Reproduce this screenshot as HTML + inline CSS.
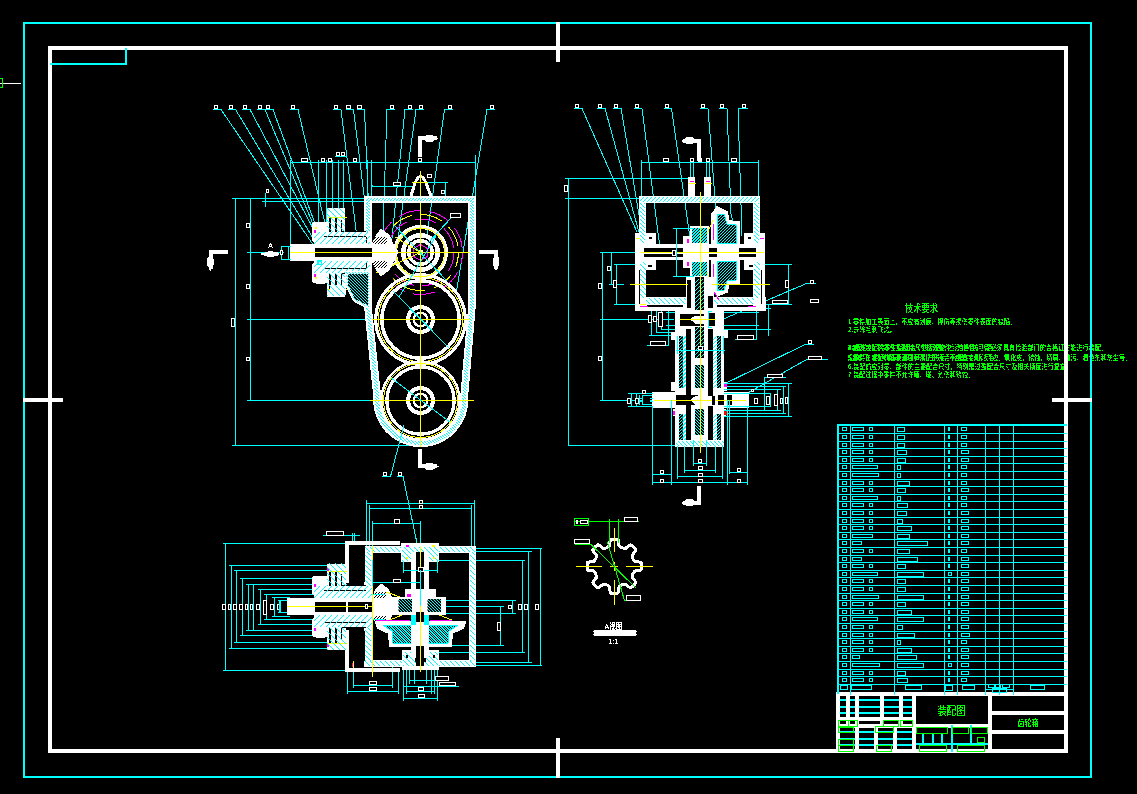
<!DOCTYPE html>
<html lang="zh">
<head>
<meta charset="utf-8">
<title>装配图 - 齿轮箱</title>
<style>
html,body{margin:0;padding:0;background:#000;overflow:hidden}
body{width:1137px;height:794px;font-family:"Liberation Sans","Noto Sans CJK SC",sans-serif}
svg{display:block;position:absolute;left:0;top:0}
svg text{font-family:"Liberation Sans","Noto Sans CJK SC",sans-serif}
</style>
</head>
<body>
<svg width="1137" height="794" viewBox="0 0 1137 794" shape-rendering="crispEdges">
<defs>
<filter id="crisp" x="-5%" y="-20%" width="110%" height="140%" color-interpolation-filters="sRGB"><feComponentTransfer><feFuncA type="discrete" tableValues="0 0 1 1 1"/></feComponentTransfer></filter>
<clipPath id="hw1"><path clip-rule="evenodd" d="M365.0 197.0 L474.8 197.0 L474.8 306.0 L467.2 396.2 L467.2 402.6 L466.3 408.9 L464.6 415.1 L462.1 420.9 L458.8 426.3 L454.8 431.3 L450.1 435.6 L444.9 439.3 L439.3 442.2 L433.3 444.4 L427.1 445.7 L420.7 446.1 L414.3 445.7 L408.1 444.4 L402.1 442.2 L396.5 439.3 L391.3 435.6 L386.6 431.3 L382.6 426.3 L379.3 420.9 L376.8 415.1 L375.1 408.9 L374.2 402.6 L374.2 396.2 L365.0 306.0 Z M370.7 202.3 L469.2 202.3 L469.2 306.0 L461.2 396.7 L461.2 402.2 L460.5 407.7 L459.0 413.1 L456.8 418.1 L453.9 422.9 L450.4 427.2 L446.3 431.0 L441.8 434.2 L436.9 436.7 L431.7 438.6 L426.2 439.7 L420.7 440.1 L415.2 439.7 L409.7 438.6 L404.5 436.7 L399.6 434.2 L395.1 431.0 L391.0 427.2 L387.5 422.9 L384.6 418.1 L382.4 413.1 L380.9 407.7 L380.2 402.2 L380.2 396.7 L370.7 306.0 Z"/></clipPath>
<clipPath id="hwtop"><rect x="360" y="190" width="120" height="13"/></clipPath>
<clipPath id="hwbody"><rect x="360" y="203" width="120" height="250"/></clipPath>
<clipPath id="tgclip"><path d="M372 204 L468 204 L466 300 L400 300 L388 262 L372 262 Z"/></clipPath>
<clipPath id="h2"><path d="M314 232 L370 232 L370 244 L314 244 Z"/></clipPath>
<clipPath id="h3"><path d="M314 261 L370 261 L370 273 L314 273 Z"/></clipPath>
<clipPath id="h4"><path d="M327 208 L345 208 L345 232 L327 232 Z"/></clipPath>
<clipPath id="h5"><path d="M327 273 L345 273 L345 296 L327 296 Z"/></clipPath>
<clipPath id="h6"><path d="M346 272 L369 272 L369 308 L354 300 L347 286 Z"/></clipPath>
<clipPath id="h7"><path d="M373 237 L387 237 L387 244 L373 244 Z"/></clipPath>
<clipPath id="h8"><path d="M373 261 L387 261 L387 268 L373 268 Z"/></clipPath>
<clipPath id="h9"><path d="M640 197 L759 197 L759 202 L640 202 Z"/></clipPath>
<clipPath id="h10"><path d="M640 203 L645 203 L645 243 L640 243 Z"/></clipPath>
<clipPath id="h11"><path d="M754 203 L759 203 L759 243 L754 243 Z"/></clipPath>
<clipPath id="h12"><path d="M640 262 L646 262 L646 298 L640 298 Z"/></clipPath>
<clipPath id="h13"><path d="M754 262 L760 262 L760 298 L754 298 Z"/></clipPath>
<clipPath id="h14"><path d="M646 298 L686 298 L686 304 L646 304 Z"/></clipPath>
<clipPath id="h15"><path d="M714 298 L754 298 L754 304 L714 304 Z"/></clipPath>
<clipPath id="h16"><path d="M692 228 L707 228 L707 243 L692 243 Z"/></clipPath>
<clipPath id="h17"><path d="M692 262 L707 262 L707 276 L692 276 Z"/></clipPath>
<clipPath id="h18"><path d="M717 214 L724 214 L727 224 L736 225 L736 243 L717 243 Z"/></clipPath>
<clipPath id="h19"><path d="M717 261 L736 261 L736 280 L727 281 L724 290 L717 290 Z"/></clipPath>
<clipPath id="h20"><path d="M679 336 L682.5 336 L682.5 388 L679 388 Z"/></clipPath>
<clipPath id="h21"><path d="M717 336 L720.5 336 L720.5 388 L717 388 Z"/></clipPath>
<clipPath id="h22"><path d="M682.5 336 L686 336 L686 388 L682.5 388 Z"/></clipPath>
<clipPath id="h23"><path d="M713 336 L717 336 L717 388 L713 388 Z"/></clipPath>
<clipPath id="h24"><path d="M679 414 L682.5 414 L682.5 440 L679 440 Z"/></clipPath>
<clipPath id="h25"><path d="M717 414 L720.5 414 L720.5 440 L717 440 Z"/></clipPath>
<clipPath id="h26"><path d="M682.5 414 L686 414 L686 440 L682.5 440 Z"/></clipPath>
<clipPath id="h27"><path d="M713 414 L717 414 L717 440 L713 440 Z"/></clipPath>
<clipPath id="h28"><path d="M695 279 L704 279 L704 310 L695 310 Z"/></clipPath>
<clipPath id="h29"><path d="M695 327 L704 327 L704 358 L695 358 Z"/></clipPath>
<clipPath id="h30"><path d="M695 365 L704 365 L704 388 L695 388 Z"/></clipPath>
<clipPath id="h31"><path d="M695 409 L704 409 L704 435 L695 435 Z"/></clipPath>
<clipPath id="h32"><path d="M676 441 L724 441 L724 446 L676 446 Z"/></clipPath>
<clipPath id="h33"><path d="M365 547 L475 547 L475 552 L365 552 Z"/></clipPath>
<clipPath id="h34"><path d="M365 661 L475 661 L475 666 L365 666 Z"/></clipPath>
<clipPath id="h35"><path d="M365 552 L371 552 L371 661 L365 661 Z"/></clipPath>
<clipPath id="h36"><path d="M470 552 L475 552 L475 661 L470 661 Z"/></clipPath>
<clipPath id="h37"><path d="M402 547 L438 547 L438 561 L402 561 Z"/></clipPath>
<clipPath id="h38"><path d="M403 652 L438 652 L438 666 L403 666 Z"/></clipPath>
<clipPath id="h39"><path d="M314 586 L372 586 L372 598 L314 598 Z"/></clipPath>
<clipPath id="h40"><path d="M314 615 L372 615 L372 627 L314 627 Z"/></clipPath>
<clipPath id="h41"><path d="M327 563 L346 563 L346 586 L327 586 Z"/></clipPath>
<clipPath id="h42"><path d="M327 627 L346 627 L346 650 L327 650 Z"/></clipPath>
<clipPath id="h43"><path d="M374 592 L386 592 L386 598 L374 598 Z"/></clipPath>
<clipPath id="h44"><path d="M374 616 L386 616 L386 622 L374 622 Z"/></clipPath>
<clipPath id="h45"><path d="M398.5 599 L412 599 L412 612 L398.5 612 Z"/></clipPath>
<clipPath id="h46"><path d="M427.5 599 L441 599 L441 612 L427.5 612 Z"/></clipPath>
<clipPath id="h47"><path d="M383 625 L458 625 L449 631 L448 643 L393 643 L392 631 Z"/></clipPath>
</defs>
<rect x="0" y="0" width="1137" height="794" fill="#000"/>
<text x="921.5" y="312" font-size="10.5" fill="#00ff00" text-anchor="middle" filter="url(#crisp)" textLength="33" lengthAdjust="spacingAndGlyphs">技术要求</text>
<text x="848" y="324" font-size="7.4" fill="#00ff00" text-anchor="start" filter="url(#crisp)" textLength="168" lengthAdjust="spacingAndGlyphs">1.零件加工表面上，不应有划痕、擦伤等损伤零件表面的缺陷。</text>
<text x="848" y="332" font-size="7.4" fill="#00ff00" text-anchor="start" filter="url(#crisp)" textLength="48" lengthAdjust="spacingAndGlyphs">2.去除毛刺飞边。</text>
<text x="848" y="349.5" font-size="7.4" fill="#00ff00" text-anchor="start" filter="url(#crisp)" textLength="259" lengthAdjust="spacingAndGlyphs">3.进入装配的零件及部件（包括外购件、外协件），均必须具有检验部门的合格证方能进行装配。</text>
<text x="848" y="349.5" font-size="7.4" fill="#00ff00" text-anchor="start" filter="url(#crisp)" textLength="150" lengthAdjust="spacingAndGlyphs">4.装配前应对零部件的主要配合尺寸进行复查，检验合格后方可使用。</text>
<text x="848" y="359.5" font-size="7.4" fill="#00ff00" text-anchor="start" filter="url(#crisp)" textLength="283" lengthAdjust="spacingAndGlyphs">5.零件在装配前必须清理和清洗干净，不得有毛刺、飞边、氧化皮、锈蚀、切屑、油污、着色剂和灰尘等。</text>
<text x="848" y="359.5" font-size="7.4" fill="#00ff00" text-anchor="start" filter="url(#crisp)" textLength="150" lengthAdjust="spacingAndGlyphs">规定螺钉、螺栓和螺母紧固时，严禁打击或使用不合适的旋具和扳手。</text>
<text x="848" y="368.5" font-size="7.4" fill="#00ff00" text-anchor="start" filter="url(#crisp)" textLength="224" lengthAdjust="spacingAndGlyphs">6.装配前应对零、部件的主要配合尺寸，特别是过盈配合尺寸及相关精度进行复查。</text>
<text x="848" y="377" font-size="7.4" fill="#00ff00" text-anchor="start" filter="url(#crisp)" textLength="126" lengthAdjust="spacingAndGlyphs">7.装配过程中零件不允许磕、碰、划伤和锈蚀。</text>
<rect x="24" y="23" width="1067" height="754" fill="none" stroke="#00ffff" stroke-width="2"/>
<rect x="50" y="48" width="1016" height="703" fill="none" stroke="#ffffff" stroke-width="4"/>
<rect x="556" y="22" width="4" height="40" fill="#ffffff"/>
<rect x="556" y="738" width="4" height="40" fill="#ffffff"/>
<rect x="23" y="398" width="40" height="4" fill="#ffffff"/>
<rect x="1052" y="398" width="40" height="4" fill="#ffffff"/>
<rect x="50" y="63" width="77" height="2" fill="#00ffff"/>
<rect x="125" y="48" width="2" height="17" fill="#00ffff"/>
<rect x="0" y="83" width="21" height="1" fill="#ffffff"/>
<rect x="-1.5" y="78.5" width="4" height="9" fill="none" stroke="#00ff00" stroke-width="1"/>
<rect x="836" y="692" width="232" height="4" fill="#ffffff"/>
<rect x="836" y="692" width="4" height="61" fill="#ffffff"/>
<rect x="988" y="692" width="4" height="61" fill="#ffffff"/>
<rect x="912" y="692" width="4" height="61" fill="#ffffff"/>
<rect x="992" y="711" width="74" height="4" fill="#ffffff"/>
<rect x="992" y="730" width="74" height="4" fill="#ffffff"/>
<rect x="916" y="724" width="72" height="4" fill="#ffffff"/>
<rect x="840" y="699" width="72" height="2" fill="#00ffff"/>
<rect x="840" y="706" width="72" height="2" fill="#00ffff"/>
<rect x="840" y="712" width="72" height="2" fill="#00ffff"/>
<rect x="840" y="731" width="72" height="2" fill="#00ffff"/>
<rect x="840" y="738" width="72" height="2" fill="#00ffff"/>
<rect x="840" y="744" width="72" height="2" fill="#00ffff"/>
<rect x="846" y="696" width="4" height="28" fill="#ffffff"/>
<rect x="855" y="696" width="4" height="28" fill="#ffffff"/>
<rect x="880" y="696" width="4" height="28" fill="#ffffff"/>
<rect x="899" y="696" width="4" height="28" fill="#ffffff"/>
<rect x="840" y="717" width="74" height="4" fill="#ffffff"/>
<rect x="840" y="724" width="74" height="4" fill="#ffffff"/>
<rect x="855" y="724" width="4" height="27" fill="#ffffff"/>
<rect x="874" y="724" width="4" height="27" fill="#ffffff"/>
<rect x="893" y="724" width="4" height="27" fill="#ffffff"/>
<rect x="916" y="743" width="72" height="2" fill="#00ffff"/>
<rect x="922" y="733" width="2" height="11" fill="#00ffff"/>
<rect x="932" y="733" width="2" height="11" fill="#00ffff"/>
<rect x="941" y="733" width="2" height="11" fill="#00ffff"/>
<rect x="951" y="725" width="2" height="27" fill="#00ffff"/>
<rect x="970" y="725" width="2" height="19" fill="#00ffff"/>
<rect x="916.5" y="727.5" width="31" height="6" fill="none" stroke="#00ff00" stroke-width="1"/>
<rect x="952.5" y="727.5" width="16" height="6" fill="none" stroke="#00ff00" stroke-width="1"/>
<rect x="971.5" y="727.5" width="16" height="6" fill="none" stroke="#00ff00" stroke-width="1"/>
<rect x="977.5" y="737.5" width="7" height="5" fill="none" stroke="#00ff00" stroke-width="1"/>
<rect x="919.5" y="745.5" width="27" height="6" fill="none" stroke="#00ff00" stroke-width="1"/>
<rect x="957.5" y="745.5" width="27" height="6" fill="none" stroke="#00ff00" stroke-width="1"/>
<rect x="838.5" y="720.5" width="10" height="6" fill="none" stroke="#00ff00" stroke-width="1"/>
<rect x="848.5" y="720.5" width="9" height="6" fill="none" stroke="#00ff00" stroke-width="1"/>
<rect x="838.5" y="727.5" width="15" height="5" fill="none" stroke="#00ff00" stroke-width="1"/>
<rect x="883.5" y="720.5" width="15" height="6" fill="none" stroke="#00ff00" stroke-width="1"/>
<rect x="900.5" y="720.5" width="12" height="6" fill="none" stroke="#00ff00" stroke-width="1"/>
<rect x="875.5" y="726.5" width="18" height="6" fill="none" stroke="#00ff00" stroke-width="1"/>
<rect x="838.5" y="739.5" width="15" height="6" fill="none" stroke="#00ff00" stroke-width="1"/>
<rect x="838.5" y="745.5" width="15" height="6" fill="none" stroke="#00ff00" stroke-width="1"/>
<rect x="876.5" y="745.5" width="15" height="6" fill="none" stroke="#00ff00" stroke-width="1"/>
<text x="951.5" y="714.5" font-size="11" fill="#00ff00" text-anchor="middle" filter="url(#crisp)" textLength="28" lengthAdjust="spacingAndGlyphs">装配图</text>
<text x="1028" y="726" font-size="9" fill="#00ff00" text-anchor="middle" filter="url(#crisp)" textLength="21" lengthAdjust="spacingAndGlyphs">齿轮箱</text>
<rect x="837" y="424" width="230" height="2" fill="#00ffff"/>
<rect x="838" y="433" width="229" height="1" fill="#00ffff"/>
<rect x="838" y="441" width="229" height="1" fill="#00ffff"/>
<rect x="838" y="448" width="229" height="1" fill="#00ffff"/>
<rect x="838" y="456" width="229" height="1" fill="#00ffff"/>
<rect x="838" y="463" width="229" height="1" fill="#00ffff"/>
<rect x="838" y="471" width="229" height="1" fill="#00ffff"/>
<rect x="838" y="479" width="229" height="1" fill="#00ffff"/>
<rect x="838" y="486" width="229" height="1" fill="#00ffff"/>
<rect x="838" y="494" width="229" height="1" fill="#00ffff"/>
<rect x="838" y="501" width="229" height="1" fill="#00ffff"/>
<rect x="838" y="509" width="229" height="1" fill="#00ffff"/>
<rect x="838" y="517" width="229" height="1" fill="#00ffff"/>
<rect x="838" y="524" width="229" height="1" fill="#00ffff"/>
<rect x="838" y="532" width="229" height="1" fill="#00ffff"/>
<rect x="838" y="539" width="229" height="1" fill="#00ffff"/>
<rect x="838" y="547" width="229" height="1" fill="#00ffff"/>
<rect x="838" y="555" width="229" height="1" fill="#00ffff"/>
<rect x="838" y="562" width="229" height="1" fill="#00ffff"/>
<rect x="838" y="570" width="229" height="1" fill="#00ffff"/>
<rect x="838" y="577" width="229" height="1" fill="#00ffff"/>
<rect x="838" y="585" width="229" height="1" fill="#00ffff"/>
<rect x="838" y="593" width="229" height="1" fill="#00ffff"/>
<rect x="838" y="600" width="229" height="1" fill="#00ffff"/>
<rect x="838" y="608" width="229" height="1" fill="#00ffff"/>
<rect x="838" y="615" width="229" height="1" fill="#00ffff"/>
<rect x="838" y="623" width="229" height="1" fill="#00ffff"/>
<rect x="838" y="631" width="229" height="1" fill="#00ffff"/>
<rect x="838" y="638" width="229" height="1" fill="#00ffff"/>
<rect x="838" y="646" width="229" height="1" fill="#00ffff"/>
<rect x="838" y="653" width="229" height="1" fill="#00ffff"/>
<rect x="838" y="661" width="229" height="1" fill="#00ffff"/>
<rect x="838" y="669" width="229" height="1" fill="#00ffff"/>
<rect x="838" y="676" width="229" height="1" fill="#00ffff"/>
<rect x="838" y="684" width="229" height="1" fill="#00ffff"/>
<rect x="837" y="424" width="2" height="270" fill="#00ffff"/>
<rect x="850" y="424" width="1" height="271" fill="#00ffff"/>
<rect x="894" y="424" width="1" height="271" fill="#00ffff"/>
<rect x="944" y="424" width="1" height="271" fill="#00ffff"/>
<rect x="957" y="424" width="1" height="271" fill="#00ffff"/>
<rect x="985" y="424" width="1" height="271" fill="#00ffff"/>
<rect x="999" y="424" width="1" height="271" fill="#00ffff"/>
<rect x="1013" y="424" width="1" height="271" fill="#00ffff"/>
<rect x="842.5" y="427.5" width="4" height="3" fill="none" stroke="#00ffff" stroke-width="1"/>
<rect x="852.5" y="427.5" width="11" height="3" fill="none" stroke="#00ffff" stroke-width="1"/>
<rect x="869.5" y="427.5" width="3" height="3" fill="none" stroke="#00ffff" stroke-width="1"/>
<rect x="897.5" y="427.5" width="7" height="4" fill="none" stroke="#00ffff" stroke-width="1"/>
<rect x="948" y="427" width="2" height="4" fill="#00ffff"/>
<rect x="961.5" y="427.5" width="5" height="3" fill="none" stroke="#00ffff" stroke-width="1"/>
<rect x="842.5" y="435.5" width="4" height="3" fill="none" stroke="#00ffff" stroke-width="1"/>
<rect x="852.5" y="435.5" width="11" height="3" fill="none" stroke="#00ffff" stroke-width="1"/>
<rect x="869.5" y="435.5" width="3" height="3" fill="none" stroke="#00ffff" stroke-width="1"/>
<rect x="897.5" y="435.5" width="7" height="4" fill="none" stroke="#00ffff" stroke-width="1"/>
<rect x="948" y="435" width="2" height="4" fill="#00ffff"/>
<rect x="961.5" y="435.5" width="5" height="3" fill="none" stroke="#00ffff" stroke-width="1"/>
<rect x="842.5" y="443.5" width="4" height="3" fill="none" stroke="#00ffff" stroke-width="1"/>
<rect x="852.5" y="443.5" width="11" height="3" fill="none" stroke="#00ffff" stroke-width="1"/>
<rect x="869.5" y="443.5" width="3" height="3" fill="none" stroke="#00ffff" stroke-width="1"/>
<rect x="897.5" y="443.5" width="7" height="4" fill="none" stroke="#00ffff" stroke-width="1"/>
<rect x="948" y="443" width="2" height="4" fill="#00ffff"/>
<rect x="961.5" y="443.5" width="5" height="3" fill="none" stroke="#00ffff" stroke-width="1"/>
<rect x="842.5" y="450.5" width="4" height="3" fill="none" stroke="#00ffff" stroke-width="1"/>
<rect x="852.5" y="450.5" width="11" height="3" fill="none" stroke="#00ffff" stroke-width="1"/>
<rect x="869.5" y="450.5" width="3" height="3" fill="none" stroke="#00ffff" stroke-width="1"/>
<rect x="897.5" y="450.5" width="9" height="4" fill="none" stroke="#00ffff" stroke-width="1"/>
<rect x="948" y="450" width="2" height="4" fill="#00ffff"/>
<rect x="961.5" y="450.5" width="7" height="3" fill="none" stroke="#00ffff" stroke-width="1"/>
<rect x="842.5" y="458.5" width="4" height="3" fill="none" stroke="#00ffff" stroke-width="1"/>
<rect x="852.5" y="458.5" width="11" height="3" fill="none" stroke="#00ffff" stroke-width="1"/>
<rect x="869.5" y="458.5" width="3" height="3" fill="none" stroke="#00ffff" stroke-width="1"/>
<rect x="897.5" y="458.5" width="8" height="4" fill="none" stroke="#00ffff" stroke-width="1"/>
<rect x="948" y="458" width="2" height="4" fill="#00ffff"/>
<rect x="961.5" y="458.5" width="7" height="3" fill="none" stroke="#00ffff" stroke-width="1"/>
<rect x="842.5" y="465.5" width="4" height="3" fill="none" stroke="#00ffff" stroke-width="1"/>
<rect x="852.5" y="465.5" width="25" height="3" fill="none" stroke="#00ffff" stroke-width="1"/>
<rect x="897.5" y="465.5" width="3" height="4" fill="none" stroke="#00ffff" stroke-width="1"/>
<rect x="948" y="465" width="2" height="4" fill="#00ffff"/>
<rect x="961.5" y="465.5" width="5" height="3" fill="none" stroke="#00ffff" stroke-width="1"/>
<rect x="842.5" y="473.5" width="4" height="3" fill="none" stroke="#00ffff" stroke-width="1"/>
<rect x="852.5" y="473.5" width="26" height="3" fill="none" stroke="#00ffff" stroke-width="1"/>
<rect x="897.5" y="473.5" width="3" height="4" fill="none" stroke="#00ffff" stroke-width="1"/>
<rect x="948" y="473" width="2" height="4" fill="#00ffff"/>
<rect x="961.5" y="473.5" width="5" height="3" fill="none" stroke="#00ffff" stroke-width="1"/>
<rect x="842.5" y="481.5" width="4" height="3" fill="none" stroke="#00ffff" stroke-width="1"/>
<rect x="852.5" y="481.5" width="11" height="3" fill="none" stroke="#00ffff" stroke-width="1"/>
<rect x="869.5" y="481.5" width="3" height="3" fill="none" stroke="#00ffff" stroke-width="1"/>
<rect x="897.5" y="481.5" width="12" height="4" fill="none" stroke="#00ffff" stroke-width="1"/>
<rect x="948" y="481" width="2" height="4" fill="#00ffff"/>
<rect x="961.5" y="481.5" width="5" height="3" fill="none" stroke="#00ffff" stroke-width="1"/>
<rect x="842.5" y="488.5" width="4" height="3" fill="none" stroke="#00ffff" stroke-width="1"/>
<rect x="852.5" y="488.5" width="11" height="3" fill="none" stroke="#00ffff" stroke-width="1"/>
<rect x="869.5" y="488.5" width="3" height="3" fill="none" stroke="#00ffff" stroke-width="1"/>
<rect x="897.5" y="488.5" width="8" height="4" fill="none" stroke="#00ffff" stroke-width="1"/>
<rect x="948" y="488" width="2" height="4" fill="#00ffff"/>
<rect x="961.5" y="488.5" width="7" height="3" fill="none" stroke="#00ffff" stroke-width="1"/>
<rect x="842.5" y="496.5" width="4" height="3" fill="none" stroke="#00ffff" stroke-width="1"/>
<rect x="852.5" y="496.5" width="25" height="3" fill="none" stroke="#00ffff" stroke-width="1"/>
<rect x="897.5" y="496.5" width="3" height="4" fill="none" stroke="#00ffff" stroke-width="1"/>
<rect x="948" y="496" width="2" height="4" fill="#00ffff"/>
<rect x="961.5" y="496.5" width="5" height="3" fill="none" stroke="#00ffff" stroke-width="1"/>
<rect x="842.5" y="503.5" width="4" height="3" fill="none" stroke="#00ffff" stroke-width="1"/>
<rect x="852.5" y="503.5" width="11" height="3" fill="none" stroke="#00ffff" stroke-width="1"/>
<rect x="869.5" y="503.5" width="3" height="3" fill="none" stroke="#00ffff" stroke-width="1"/>
<rect x="897.5" y="503.5" width="10" height="4" fill="none" stroke="#00ffff" stroke-width="1"/>
<rect x="948" y="503" width="2" height="4" fill="#00ffff"/>
<rect x="961.5" y="503.5" width="5" height="3" fill="none" stroke="#00ffff" stroke-width="1"/>
<rect x="842.5" y="511.5" width="4" height="3" fill="none" stroke="#00ffff" stroke-width="1"/>
<rect x="852.5" y="511.5" width="11" height="3" fill="none" stroke="#00ffff" stroke-width="1"/>
<rect x="869.5" y="511.5" width="3" height="3" fill="none" stroke="#00ffff" stroke-width="1"/>
<rect x="897.5" y="511.5" width="9" height="4" fill="none" stroke="#00ffff" stroke-width="1"/>
<rect x="948" y="511" width="2" height="4" fill="#00ffff"/>
<rect x="961.5" y="511.5" width="7" height="3" fill="none" stroke="#00ffff" stroke-width="1"/>
<rect x="842.5" y="519.5" width="4" height="3" fill="none" stroke="#00ffff" stroke-width="1"/>
<rect x="852.5" y="519.5" width="11" height="3" fill="none" stroke="#00ffff" stroke-width="1"/>
<rect x="869.5" y="519.5" width="3" height="3" fill="none" stroke="#00ffff" stroke-width="1"/>
<rect x="897.5" y="519.5" width="5" height="4" fill="none" stroke="#00ffff" stroke-width="1"/>
<rect x="948" y="519" width="2" height="4" fill="#00ffff"/>
<rect x="961.5" y="519.5" width="7" height="3" fill="none" stroke="#00ffff" stroke-width="1"/>
<rect x="842.5" y="526.5" width="4" height="3" fill="none" stroke="#00ffff" stroke-width="1"/>
<rect x="852.5" y="526.5" width="11" height="3" fill="none" stroke="#00ffff" stroke-width="1"/>
<rect x="869.5" y="526.5" width="3" height="3" fill="none" stroke="#00ffff" stroke-width="1"/>
<rect x="897.5" y="526.5" width="14" height="4" fill="none" stroke="#00ffff" stroke-width="1"/>
<rect x="948" y="526" width="2" height="4" fill="#00ffff"/>
<rect x="961.5" y="526.5" width="7" height="3" fill="none" stroke="#00ffff" stroke-width="1"/>
<rect x="842.5" y="534.5" width="4" height="3" fill="none" stroke="#00ffff" stroke-width="1"/>
<rect x="852.5" y="534.5" width="20" height="3" fill="none" stroke="#00ffff" stroke-width="1"/>
<rect x="897.5" y="534.5" width="12" height="4" fill="none" stroke="#00ffff" stroke-width="1"/>
<rect x="948" y="534" width="2" height="4" fill="#00ffff"/>
<rect x="961.5" y="534.5" width="7" height="3" fill="none" stroke="#00ffff" stroke-width="1"/>
<rect x="842.5" y="541.5" width="4" height="3" fill="none" stroke="#00ffff" stroke-width="1"/>
<rect x="852.5" y="541.5" width="9" height="3" fill="none" stroke="#00ffff" stroke-width="1"/>
<rect x="897.5" y="541.5" width="30" height="4" fill="none" stroke="#00ffff" stroke-width="1"/>
<rect x="948" y="541" width="2" height="4" fill="#00ffff"/>
<rect x="961.5" y="541.5" width="7" height="3" fill="none" stroke="#00ffff" stroke-width="1"/>
<rect x="842.5" y="549.5" width="4" height="3" fill="none" stroke="#00ffff" stroke-width="1"/>
<rect x="852.5" y="549.5" width="11" height="3" fill="none" stroke="#00ffff" stroke-width="1"/>
<rect x="869.5" y="549.5" width="3" height="3" fill="none" stroke="#00ffff" stroke-width="1"/>
<rect x="897.5" y="549.5" width="12" height="4" fill="none" stroke="#00ffff" stroke-width="1"/>
<rect x="948" y="549" width="2" height="4" fill="#00ffff"/>
<rect x="961.5" y="549.5" width="5" height="3" fill="none" stroke="#00ffff" stroke-width="1"/>
<rect x="842.5" y="557.5" width="4" height="3" fill="none" stroke="#00ffff" stroke-width="1"/>
<rect x="852.5" y="557.5" width="9" height="3" fill="none" stroke="#00ffff" stroke-width="1"/>
<rect x="897.5" y="557.5" width="20" height="4" fill="none" stroke="#00ffff" stroke-width="1"/>
<rect x="948" y="557" width="2" height="4" fill="#00ffff"/>
<rect x="961.5" y="557.5" width="7" height="3" fill="none" stroke="#00ffff" stroke-width="1"/>
<rect x="842.5" y="564.5" width="4" height="3" fill="none" stroke="#00ffff" stroke-width="1"/>
<rect x="852.5" y="564.5" width="11" height="3" fill="none" stroke="#00ffff" stroke-width="1"/>
<rect x="869.5" y="564.5" width="3" height="3" fill="none" stroke="#00ffff" stroke-width="1"/>
<rect x="897.5" y="564.5" width="8" height="4" fill="none" stroke="#00ffff" stroke-width="1"/>
<rect x="948" y="564" width="2" height="4" fill="#00ffff"/>
<rect x="961.5" y="564.5" width="7" height="3" fill="none" stroke="#00ffff" stroke-width="1"/>
<rect x="842.5" y="572.5" width="4" height="3" fill="none" stroke="#00ffff" stroke-width="1"/>
<rect x="852.5" y="572.5" width="25" height="3" fill="none" stroke="#00ffff" stroke-width="1"/>
<rect x="897.5" y="572.5" width="26" height="4" fill="none" stroke="#00ffff" stroke-width="1"/>
<rect x="948.5" y="572.5" width="3" height="3" fill="none" stroke="#00ffff" stroke-width="1"/>
<rect x="961.5" y="572.5" width="7" height="3" fill="none" stroke="#00ffff" stroke-width="1"/>
<rect x="842.5" y="579.5" width="4" height="3" fill="none" stroke="#00ffff" stroke-width="1"/>
<rect x="852.5" y="579.5" width="11" height="3" fill="none" stroke="#00ffff" stroke-width="1"/>
<rect x="869.5" y="579.5" width="3" height="3" fill="none" stroke="#00ffff" stroke-width="1"/>
<rect x="897.5" y="579.5" width="8" height="4" fill="none" stroke="#00ffff" stroke-width="1"/>
<rect x="948" y="579" width="2" height="4" fill="#00ffff"/>
<rect x="961.5" y="579.5" width="7" height="3" fill="none" stroke="#00ffff" stroke-width="1"/>
<rect x="842.5" y="587.5" width="4" height="3" fill="none" stroke="#00ffff" stroke-width="1"/>
<rect x="852.5" y="587.5" width="11" height="3" fill="none" stroke="#00ffff" stroke-width="1"/>
<rect x="869.5" y="587.5" width="3" height="3" fill="none" stroke="#00ffff" stroke-width="1"/>
<rect x="897.5" y="587.5" width="8" height="4" fill="none" stroke="#00ffff" stroke-width="1"/>
<rect x="948" y="587" width="2" height="4" fill="#00ffff"/>
<rect x="961.5" y="587.5" width="7" height="3" fill="none" stroke="#00ffff" stroke-width="1"/>
<rect x="842.5" y="595.5" width="4" height="3" fill="none" stroke="#00ffff" stroke-width="1"/>
<rect x="852.5" y="595.5" width="26" height="3" fill="none" stroke="#00ffff" stroke-width="1"/>
<rect x="897.5" y="595.5" width="26" height="4" fill="none" stroke="#00ffff" stroke-width="1"/>
<rect x="948" y="595" width="2" height="4" fill="#00ffff"/>
<rect x="961.5" y="595.5" width="7" height="3" fill="none" stroke="#00ffff" stroke-width="1"/>
<rect x="842.5" y="602.5" width="4" height="3" fill="none" stroke="#00ffff" stroke-width="1"/>
<rect x="852.5" y="602.5" width="11" height="3" fill="none" stroke="#00ffff" stroke-width="1"/>
<rect x="869.5" y="602.5" width="3" height="3" fill="none" stroke="#00ffff" stroke-width="1"/>
<rect x="897.5" y="602.5" width="8" height="4" fill="none" stroke="#00ffff" stroke-width="1"/>
<rect x="948" y="602" width="2" height="4" fill="#00ffff"/>
<rect x="961.5" y="602.5" width="7" height="3" fill="none" stroke="#00ffff" stroke-width="1"/>
<rect x="842.5" y="610.5" width="4" height="3" fill="none" stroke="#00ffff" stroke-width="1"/>
<rect x="852.5" y="610.5" width="11" height="3" fill="none" stroke="#00ffff" stroke-width="1"/>
<rect x="869.5" y="610.5" width="3" height="3" fill="none" stroke="#00ffff" stroke-width="1"/>
<rect x="897.5" y="610.5" width="14" height="4" fill="none" stroke="#00ffff" stroke-width="1"/>
<rect x="948" y="610" width="2" height="4" fill="#00ffff"/>
<rect x="961.5" y="610.5" width="7" height="3" fill="none" stroke="#00ffff" stroke-width="1"/>
<rect x="842.5" y="617.5" width="4" height="3" fill="none" stroke="#00ffff" stroke-width="1"/>
<rect x="852.5" y="617.5" width="25" height="3" fill="none" stroke="#00ffff" stroke-width="1"/>
<rect x="897.5" y="617.5" width="26" height="4" fill="none" stroke="#00ffff" stroke-width="1"/>
<rect x="948" y="617" width="2" height="4" fill="#00ffff"/>
<rect x="961.5" y="617.5" width="7" height="3" fill="none" stroke="#00ffff" stroke-width="1"/>
<rect x="842.5" y="625.5" width="4" height="3" fill="none" stroke="#00ffff" stroke-width="1"/>
<rect x="852.5" y="625.5" width="11" height="3" fill="none" stroke="#00ffff" stroke-width="1"/>
<rect x="869.5" y="625.5" width="3" height="3" fill="none" stroke="#00ffff" stroke-width="1"/>
<rect x="897.5" y="625.5" width="5" height="4" fill="none" stroke="#00ffff" stroke-width="1"/>
<rect x="948" y="625" width="2" height="4" fill="#00ffff"/>
<rect x="961.5" y="625.5" width="7" height="3" fill="none" stroke="#00ffff" stroke-width="1"/>
<rect x="842.5" y="633.5" width="4" height="3" fill="none" stroke="#00ffff" stroke-width="1"/>
<rect x="852.5" y="633.5" width="11" height="3" fill="none" stroke="#00ffff" stroke-width="1"/>
<rect x="869.5" y="633.5" width="3" height="3" fill="none" stroke="#00ffff" stroke-width="1"/>
<rect x="897.5" y="633.5" width="17" height="4" fill="none" stroke="#00ffff" stroke-width="1"/>
<rect x="948" y="633" width="2" height="4" fill="#00ffff"/>
<rect x="961.5" y="633.5" width="8" height="3" fill="none" stroke="#00ffff" stroke-width="1"/>
<rect x="842.5" y="640.5" width="4" height="3" fill="none" stroke="#00ffff" stroke-width="1"/>
<rect x="852.5" y="640.5" width="11" height="3" fill="none" stroke="#00ffff" stroke-width="1"/>
<rect x="869.5" y="640.5" width="3" height="3" fill="none" stroke="#00ffff" stroke-width="1"/>
<rect x="897.5" y="640.5" width="3" height="4" fill="none" stroke="#00ffff" stroke-width="1"/>
<rect x="948" y="640" width="2" height="4" fill="#00ffff"/>
<rect x="961.5" y="640.5" width="5" height="3" fill="none" stroke="#00ffff" stroke-width="1"/>
<rect x="842.5" y="648.5" width="4" height="3" fill="none" stroke="#00ffff" stroke-width="1"/>
<rect x="852.5" y="648.5" width="11" height="3" fill="none" stroke="#00ffff" stroke-width="1"/>
<rect x="869.5" y="648.5" width="3" height="3" fill="none" stroke="#00ffff" stroke-width="1"/>
<rect x="897.5" y="648.5" width="14" height="4" fill="none" stroke="#00ffff" stroke-width="1"/>
<rect x="948" y="648" width="2" height="4" fill="#00ffff"/>
<rect x="961.5" y="648.5" width="7" height="3" fill="none" stroke="#00ffff" stroke-width="1"/>
<rect x="842.5" y="655.5" width="4" height="3" fill="none" stroke="#00ffff" stroke-width="1"/>
<rect x="852.5" y="655.5" width="7" height="3" fill="none" stroke="#00ffff" stroke-width="1"/>
<rect x="897.5" y="655.5" width="19" height="4" fill="none" stroke="#00ffff" stroke-width="1"/>
<rect x="948" y="655" width="2" height="4" fill="#00ffff"/>
<rect x="961.5" y="655.5" width="7" height="3" fill="none" stroke="#00ffff" stroke-width="1"/>
<rect x="842.5" y="663.5" width="4" height="3" fill="none" stroke="#00ffff" stroke-width="1"/>
<rect x="852.5" y="663.5" width="27" height="3" fill="none" stroke="#00ffff" stroke-width="1"/>
<rect x="897.5" y="663.5" width="26" height="4" fill="none" stroke="#00ffff" stroke-width="1"/>
<rect x="948.5" y="663.5" width="3" height="3" fill="none" stroke="#00ffff" stroke-width="1"/>
<rect x="961.5" y="663.5" width="7" height="3" fill="none" stroke="#00ffff" stroke-width="1"/>
<rect x="842.5" y="671.5" width="4" height="3" fill="none" stroke="#00ffff" stroke-width="1"/>
<rect x="852.5" y="671.5" width="11" height="3" fill="none" stroke="#00ffff" stroke-width="1"/>
<rect x="869.5" y="671.5" width="3" height="3" fill="none" stroke="#00ffff" stroke-width="1"/>
<rect x="897.5" y="671.5" width="8" height="4" fill="none" stroke="#00ffff" stroke-width="1"/>
<rect x="948" y="671" width="2" height="4" fill="#00ffff"/>
<rect x="961.5" y="671.5" width="7" height="3" fill="none" stroke="#00ffff" stroke-width="1"/>
<rect x="842.5" y="678.5" width="4" height="3" fill="none" stroke="#00ffff" stroke-width="1"/>
<rect x="852.5" y="678.5" width="11" height="3" fill="none" stroke="#00ffff" stroke-width="1"/>
<rect x="869.5" y="678.5" width="3" height="3" fill="none" stroke="#00ffff" stroke-width="1"/>
<rect x="897.5" y="678.5" width="10" height="4" fill="none" stroke="#00ffff" stroke-width="1"/>
<rect x="948" y="678" width="2" height="4" fill="#00ffff"/>
<rect x="961.5" y="678.5" width="5" height="3" fill="none" stroke="#00ffff" stroke-width="1"/>
<rect x="840.5" y="685.5" width="7" height="4" fill="none" stroke="#00ffff" stroke-width="1"/>
<rect x="851.5" y="685.5" width="20" height="4" fill="none" stroke="#00ffff" stroke-width="1"/>
<rect x="905.5" y="685.5" width="16" height="4" fill="none" stroke="#00ffff" stroke-width="1"/>
<rect x="945.5" y="685.5" width="7" height="5" fill="none" stroke="#00ffff" stroke-width="1"/>
<rect x="962.5" y="685.5" width="12" height="4" fill="none" stroke="#00ffff" stroke-width="1"/>
<rect x="988.5" y="684.5" width="6" height="3" fill="none" stroke="#00ffff" stroke-width="1"/>
<rect x="995.5" y="684.5" width="5" height="3" fill="none" stroke="#00ffff" stroke-width="1"/>
<rect x="1002.5" y="684.5" width="7" height="3" fill="none" stroke="#00ffff" stroke-width="1"/>
<rect x="992.5" y="688.5" width="14" height="4" fill="none" stroke="#00ffff" stroke-width="1"/>
<rect x="1030.5" y="685.5" width="14" height="4" fill="none" stroke="#00ffff" stroke-width="1"/>
<rect x="986" y="689" width="28" height="1" fill="#00ffff"/>
<rect x="213" y="109" width="8" height="1" fill="#00ffff"/>
<path d="M221 109.5 L316 249" fill="none" stroke="#00ffff" stroke-width="1"/>
<rect x="214.5" y="105" width="3" height="3" fill="#000000" stroke="#ffffff" stroke-width="1"/>
<rect x="227.5" y="109" width="8" height="1" fill="#00ffff"/>
<path d="M235.5 109.5 L313 238" fill="none" stroke="#00ffff" stroke-width="1"/>
<rect x="229" y="105" width="3" height="3" fill="#000000" stroke="#ffffff" stroke-width="1"/>
<rect x="242" y="109" width="8" height="1" fill="#00ffff"/>
<path d="M250 109.5 L315 232" fill="none" stroke="#00ffff" stroke-width="1"/>
<rect x="243.5" y="105" width="3" height="3" fill="#000000" stroke="#ffffff" stroke-width="1"/>
<rect x="257" y="109" width="8" height="1" fill="#00ffff"/>
<path d="M265 109.5 L318 236" fill="none" stroke="#00ffff" stroke-width="1"/>
<rect x="258.5" y="105" width="3" height="3" fill="#000000" stroke="#ffffff" stroke-width="1"/>
<rect x="265" y="109" width="8" height="1" fill="#00ffff"/>
<path d="M273 109.5 L321 240" fill="none" stroke="#00ffff" stroke-width="1"/>
<rect x="266.5" y="105" width="3" height="3" fill="#000000" stroke="#ffffff" stroke-width="1"/>
<rect x="290" y="109" width="8" height="1" fill="#00ffff"/>
<path d="M298 109.5 L327 232" fill="none" stroke="#00ffff" stroke-width="1"/>
<rect x="291.5" y="105" width="3" height="3" fill="#000000" stroke="#ffffff" stroke-width="1"/>
<rect x="333" y="109" width="8" height="1" fill="#00ffff"/>
<path d="M341 109.5 L356.5 234" fill="none" stroke="#00ffff" stroke-width="1"/>
<rect x="334.5" y="105" width="3" height="3" fill="#000000" stroke="#ffffff" stroke-width="1"/>
<rect x="345.5" y="109" width="8" height="1" fill="#00ffff"/>
<path d="M353.5 109.5 L366.5 215" fill="none" stroke="#00ffff" stroke-width="1"/>
<rect x="346.5" y="105" width="4" height="3" fill="#000000" stroke="#ffffff" stroke-width="1"/>
<rect x="356.5" y="109" width="8" height="1" fill="#00ffff"/>
<path d="M364.5 109.5 L368.5 205" fill="none" stroke="#00ffff" stroke-width="1"/>
<rect x="357.5" y="105" width="4" height="3" fill="#000000" stroke="#ffffff" stroke-width="1"/>
<rect x="387" y="109" width="8" height="1" fill="#00ffff"/>
<path d="M387 109.5 L382.5 248" fill="none" stroke="#00ffff" stroke-width="1"/>
<rect x="390.5" y="105" width="3" height="3" fill="#000000" stroke="#ffffff" stroke-width="1"/>
<rect x="405" y="109" width="8" height="1" fill="#00ffff"/>
<path d="M405 109.5 L391 248" fill="none" stroke="#00ffff" stroke-width="1"/>
<rect x="408.5" y="105" width="3" height="3" fill="#000000" stroke="#ffffff" stroke-width="1"/>
<rect x="416" y="109" width="8" height="1" fill="#00ffff"/>
<path d="M416 109.5 L397 246" fill="none" stroke="#00ffff" stroke-width="1"/>
<rect x="419.5" y="105" width="3" height="3" fill="#000000" stroke="#ffffff" stroke-width="1"/>
<rect x="444.5" y="109" width="8" height="1" fill="#00ffff"/>
<path d="M444.5 109.5 L427 236" fill="none" stroke="#00ffff" stroke-width="1"/>
<rect x="448" y="105" width="3" height="3" fill="#000000" stroke="#ffffff" stroke-width="1"/>
<rect x="487" y="109" width="8" height="1" fill="#00ffff"/>
<path d="M487 109.5 L456 294" fill="none" stroke="#00ffff" stroke-width="1"/>
<rect x="490.5" y="105" width="3" height="3" fill="#000000" stroke="#ffffff" stroke-width="1"/>
<rect x="290" y="162" width="185" height="1" fill="#00ffff"/>
<rect x="290" y="160" width="1" height="86" fill="#00ffff"/>
<rect x="318" y="160" width="1" height="64" fill="#00ffff"/>
<rect x="326" y="160" width="1" height="64" fill="#00ffff"/>
<rect x="332" y="160" width="1" height="52" fill="#00ffff"/>
<rect x="338" y="160" width="1" height="52" fill="#00ffff"/>
<rect x="343" y="160" width="1" height="52" fill="#00ffff"/>
<rect x="367" y="160" width="1" height="38" fill="#00ffff"/>
<rect x="371" y="160" width="1" height="38" fill="#00ffff"/>
<rect x="475" y="155" width="1" height="42" fill="#00ffff"/>
<rect x="335" y="156" width="12" height="1" fill="#00ffff"/>
<rect x="301.5" y="158.5" width="6" height="3" fill="#000000" stroke="#ffffff" stroke-width="1"/>
<rect x="321.5" y="158.5" width="3" height="3" fill="#000000" stroke="#ffffff" stroke-width="1"/>
<rect x="328.5" y="158.5" width="3" height="3" fill="#000000" stroke="#ffffff" stroke-width="1"/>
<rect x="336.5" y="152.5" width="3" height="3" fill="#000000" stroke="#ffffff" stroke-width="1"/>
<rect x="341.5" y="152.5" width="3" height="3" fill="#000000" stroke="#ffffff" stroke-width="1"/>
<rect x="353.5" y="158.5" width="3" height="3" fill="#000000" stroke="#ffffff" stroke-width="1"/>
<rect x="418.5" y="158.5" width="3" height="3" fill="#000000" stroke="#ffffff" stroke-width="1"/>
<rect x="371" y="185.5" width="42" height="1" fill="#00ffff"/>
<rect x="371" y="183" width="1" height="14" fill="#00ffff"/>
<rect x="412" y="182" width="36" height="1" fill="#00ffff"/>
<rect x="445" y="182" width="1" height="15" fill="#00ffff"/>
<path d="M371 187 L373 185.5" fill="none" stroke="#00ffff" stroke-width="1"/>
<rect x="393" y="182" width="7" height="3" fill="#000000" stroke="#ffffff" stroke-width="1"/>
<rect x="427.5" y="174.5" width="4" height="3" fill="#000000" stroke="#ffffff" stroke-width="1"/>
<rect x="441.5" y="190" width="3" height="3" fill="#000000" stroke="#ffffff" stroke-width="1"/>
<rect x="235" y="198" width="1" height="247" fill="#00ffff"/>
<rect x="250" y="198" width="1" height="202" fill="#00ffff"/>
<rect x="232" y="198" width="134" height="1" fill="#00ffff"/>
<rect x="262" y="201" width="104" height="1" fill="#00ffff"/>
<rect x="247" y="252" width="39" height="1" fill="#00ffff"/>
<rect x="247" y="319" width="125" height="1" fill="#00ffff"/>
<rect x="247" y="400" width="127" height="1" fill="#00ffff"/>
<rect x="232" y="445" width="189" height="1" fill="#00ffff"/>
<rect x="265" y="193" width="1" height="14" fill="#00ffff"/>
<rect x="266.5" y="189.5" width="2" height="3" fill="#000000" stroke="#ffffff" stroke-width="1"/>
<rect x="246.5" y="223.5" width="3" height="4" fill="#000000" stroke="#ffffff" stroke-width="1"/>
<rect x="246.5" y="284.5" width="3" height="4" fill="#000000" stroke="#ffffff" stroke-width="1"/>
<rect x="231.5" y="318.5" width="3" height="8" fill="#000000" stroke="#ffffff" stroke-width="1"/>
<rect x="246.5" y="357.5" width="3" height="3" fill="#000000" stroke="#ffffff" stroke-width="1"/>
<g clip-path="url(#hw1)"><rect x="360" y="190" width="120" height="260" fill="#ffffff"/><g clip-path="url(#hwtop)"><path d="M80 460L350 190M83 460L353 190M86 460L356 190M89 460L359 190M92 460L362 190M95 460L365 190M98 460L368 190M101 460L371 190M104 460L374 190M107 460L377 190M110 460L380 190M113 460L383 190M116 460L386 190M119 460L389 190M122 460L392 190M125 460L395 190M128 460L398 190M131 460L401 190M134 460L404 190M137 460L407 190M140 460L410 190M143 460L413 190M146 460L416 190M149 460L419 190M152 460L422 190M155 460L425 190M158 460L428 190M161 460L431 190M164 460L434 190M167 460L437 190M170 460L440 190M173 460L443 190M176 460L446 190M179 460L449 190M182 460L452 190M185 460L455 190M188 460L458 190M191 460L461 190M194 460L464 190M197 460L467 190M200 460L470 190M203 460L473 190M206 460L476 190M209 460L479 190M212 460L482 190M215 460L485 190M218 460L488 190M221 460L491 190M224 460L494 190M227 460L497 190M230 460L500 190M233 460L503 190M236 460L506 190M239 460L509 190M242 460L512 190M245 460L515 190M248 460L518 190M251 460L521 190M254 460L524 190M257 460L527 190M260 460L530 190M263 460L533 190M266 460L536 190M269 460L539 190M272 460L542 190M275 460L545 190M278 460L548 190M281 460L551 190M284 460L554 190M287 460L557 190M290 460L560 190M293 460L563 190M296 460L566 190M299 460L569 190M302 460L572 190M305 460L575 190M308 460L578 190M311 460L581 190M314 460L584 190M317 460L587 190M320 460L590 190M323 460L593 190M326 460L596 190M329 460L599 190M332 460L602 190M335 460L605 190M338 460L608 190M341 460L611 190M344 460L614 190M347 460L617 190M350 460L620 190M353 460L623 190M356 460L626 190M359 460L629 190M362 460L632 190M365 460L635 190M368 460L638 190M371 460L641 190M374 460L644 190M377 460L647 190M380 460L650 190M383 460L653 190M386 460L656 190M389 460L659 190M392 460L662 190M395 460L665 190M398 460L668 190M401 460L671 190M404 460L674 190M407 460L677 190M410 460L680 190M413 460L683 190M416 460L686 190M419 460L689 190M422 460L692 190M425 460L695 190M428 460L698 190M431 460L701 190M434 460L704 190M437 460L707 190M440 460L710 190M443 460L713 190M446 460L716 190M449 460L719 190M452 460L722 190M455 460L725 190M458 460L728 190M461 460L731 190M464 460L734 190M467 460L737 190M470 460L740 190M473 460L743 190M476 460L746 190M479 460L749 190M482 460L752 190M485 460L755 190M488 460L758 190M491 460L761 190M494 460L764 190M497 460L767 190M500 460L770 190M503 460L773 190M506 460L776 190M509 460L779 190M512 460L782 190M515 460L785 190M518 460L788 190" stroke="#00ffff" stroke-width="1" fill="none"/></g><g clip-path="url(#hwbody)"><path d="M80 190L350 460M83 190L353 460M86 190L356 460M89 190L359 460M92 190L362 460M95 190L365 460M98 190L368 460M101 190L371 460M104 190L374 460M107 190L377 460M110 190L380 460M113 190L383 460M116 190L386 460M119 190L389 460M122 190L392 460M125 190L395 460M128 190L398 460M131 190L401 460M134 190L404 460M137 190L407 460M140 190L410 460M143 190L413 460M146 190L416 460M149 190L419 460M152 190L422 460M155 190L425 460M158 190L428 460M161 190L431 460M164 190L434 460M167 190L437 460M170 190L440 460M173 190L443 460M176 190L446 460M179 190L449 460M182 190L452 460M185 190L455 460M188 190L458 460M191 190L461 460M194 190L464 460M197 190L467 460M200 190L470 460M203 190L473 460M206 190L476 460M209 190L479 460M212 190L482 460M215 190L485 460M218 190L488 460M221 190L491 460M224 190L494 460M227 190L497 460M230 190L500 460M233 190L503 460M236 190L506 460M239 190L509 460M242 190L512 460M245 190L515 460M248 190L518 460M251 190L521 460M254 190L524 460M257 190L527 460M260 190L530 460M263 190L533 460M266 190L536 460M269 190L539 460M272 190L542 460M275 190L545 460M278 190L548 460M281 190L551 460M284 190L554 460M287 190L557 460M290 190L560 460M293 190L563 460M296 190L566 460M299 190L569 460M302 190L572 460M305 190L575 460M308 190L578 460M311 190L581 460M314 190L584 460M317 190L587 460M320 190L590 460M323 190L593 460M326 190L596 460M329 190L599 460M332 190L602 460M335 190L605 460M338 190L608 460M341 190L611 460M344 190L614 460M347 190L617 460M350 190L620 460M353 190L623 460M356 190L626 460M359 190L629 460M362 190L632 460M365 190L635 460M368 190L638 460M371 190L641 460M374 190L644 460M377 190L647 460M380 190L650 460M383 190L653 460M386 190L656 460M389 190L659 460M392 190L662 460M395 190L665 460M398 190L668 460M401 190L671 460M404 190L674 460M407 190L677 460M410 190L680 460M413 190L683 460M416 190L686 460M419 190L689 460M422 190L692 460M425 190L695 460M428 190L698 460M431 190L701 460M434 190L704 460M437 190L707 460M440 190L710 460M443 190L713 460M446 190L716 460M449 190L719 460M452 190L722 460M455 190L725 460M458 190L728 460M461 190L731 460M464 190L734 460M467 190L737 460M470 190L740 460M473 190L743 460M476 190L746 460M479 190L749 460M482 190L752 460M485 190L755 460M488 190L758 460M491 190L761 460M494 190L764 460M497 190L767 460M500 190L770 460M503 190L773 460M506 190L776 460M509 190L779 460M512 190L782 460M515 190L785 460M518 190L788 460" stroke="#00ffff" stroke-width="1" fill="none"/></g></g>
<path d="M365 197 L474.8 197 L474.8 306 L467.186 396.249 L467.196 402.615 L466.337 408.923 L464.627 415.055 L462.097 420.897 L458.795 426.34 L454.781 431.281 L450.132 435.63 L444.933 439.304 L439.282 442.235 L433.284 444.369 L427.051 445.665 L420.7 446.1 L414.349 445.665 L408.116 444.369 L402.118 442.235 L396.467 439.304 L391.268 435.63 L386.619 431.281 L382.605 426.34 L379.303 420.897 L376.773 415.055 L375.063 408.923 L374.204 402.615 L374.214 396.249 L365 306 Z" fill="none" stroke="#ffffff" stroke-width="2"/>
<path d="M370.7 202.3 L469.2 202.3 L469.2 306 L461.201 396.668 L461.209 402.214 L460.461 407.71 L458.971 413.053 L456.767 418.142 L453.89 422.884 L450.393 427.189 L446.342 430.978 L441.813 434.179 L436.889 436.733 L431.664 438.592 L426.233 439.721 L420.7 440.1 L415.167 439.721 L409.736 438.592 L404.511 436.733 L399.587 434.179 L395.058 430.978 L391.007 427.189 L387.51 422.884 L384.633 418.142 L382.429 413.053 L380.939 407.71 L380.191 402.214 L380.199 396.668 L370.7 306 Z" fill="none" stroke="#ffffff" stroke-width="2"/>
<path d="M411 196 L415 183 Q420.5 170 426 183 L431 196" fill="none" stroke="#ffffff" stroke-width="3"/>
<rect x="412" y="182" width="16" height="1" fill="#ffff00"/>
<rect x="420" y="171" width="1" height="25" fill="#ffff00"/>
<circle cx="420.5" cy="252.5" r="33.5" fill="none" stroke="#ff00ff" stroke-width="1" stroke-dasharray="22 9" stroke-dashoffset="33.5" clip-path="url(#tgclip)"/>
<circle cx="420.5" cy="252.5" r="38" fill="none" stroke="#ffff00" stroke-width="1" stroke-dasharray="22 9" stroke-dashoffset="38" clip-path="url(#tgclip)"/>
<circle cx="420.5" cy="252.5" r="42" fill="none" stroke="#ff00ff" stroke-width="1" stroke-dasharray="22 9" stroke-dashoffset="42" clip-path="url(#tgclip)"/>
<circle cx="420.5" cy="319.5" r="44.8" fill="none" stroke="#ffffff" stroke-width="3"/>
<circle cx="420.5" cy="319.5" r="38.75" fill="none" stroke="#ffffff" stroke-width="3.5"/>
<circle cx="420.5" cy="319.5" r="42.2" fill="none" stroke="#ffff00" stroke-width="1"/>
<circle cx="420.5" cy="319.5" r="12.5" fill="none" stroke="#ffffff" stroke-width="4"/>
<circle cx="420.5" cy="319.5" r="6.75" fill="none" stroke="#ffffff" stroke-width="2.5"/>
<circle cx="420.5" cy="400.5" r="39.05" fill="none" stroke="#ffffff" stroke-width="2.5"/>
<circle cx="420.5" cy="400.5" r="33.65" fill="none" stroke="#ffffff" stroke-width="3.3"/>
<circle cx="420.5" cy="400.5" r="37" fill="none" stroke="#ffff00" stroke-width="1"/>
<circle cx="420.5" cy="400.5" r="12.5" fill="none" stroke="#ffffff" stroke-width="4"/>
<circle cx="420.5" cy="400.5" r="6.75" fill="none" stroke="#ffffff" stroke-width="2.5"/>
<circle cx="420.5" cy="252.5" r="25.5" fill="none" stroke="#ffffff" stroke-width="4"/>
<circle cx="420.5" cy="252.5" r="17.25" fill="none" stroke="#ffffff" stroke-width="4.5"/>
<circle cx="420.5" cy="252.5" r="11.75" fill="none" stroke="#ffffff" stroke-width="3.5"/>
<circle cx="420.5" cy="252.5" r="24.5" fill="none" stroke="#ffff00" stroke-width="1"/>
<path d="M420.5 244.5 L427.428 248.5 L427.428 256.5 L420.5 260.5 L413.572 256.5 L413.572 248.5 Z" fill="none" stroke="#ff00ff" stroke-width="1"/>
<rect x="418" y="250" width="5" height="5" fill="#ffffff"/>
<rect x="420" y="203" width="1" height="244" fill="#ffff00"/>
<rect x="388" y="252" width="82" height="1" fill="#ffff00"/>
<rect x="372" y="319" width="98" height="1" fill="#ffff00"/>
<rect x="370" y="400" width="104" height="1" fill="#ffff00"/>
<path d="M393 291 L449 348" fill="none" stroke="#00ffff" stroke-width="1"/>
<path d="M391 378 L450 422" fill="none" stroke="#00ffff" stroke-width="1"/>
<path d="M428 243 L451 218" fill="none" stroke="#00ffff" stroke-width="1"/>
<rect x="450.5" y="213.5" width="10" height="4" fill="#000000" stroke="#ffffff" stroke-width="1"/>
<path d="M394 225 L447 281" fill="none" stroke="#00ffff" stroke-width="1"/>
<path d="M399 297 L436 236" fill="none" stroke="#00ffff" stroke-width="1"/>
<path d="M377 272 L396 263" fill="none" stroke="#ffffff" stroke-width="3"/>
<path d="M376 273 L420.5 252.5" fill="none" stroke="#ffff00" stroke-width="1"/>
<path d="M395 237 L420.5 252.5" fill="none" stroke="#ffff00" stroke-width="1"/>
<path d="M404 425 L390.5 476.5" fill="none" stroke="#00ffff" stroke-width="1"/>
<rect x="382" y="476" width="9" height="1" fill="#00ffff"/>
<rect x="383.5" y="472.5" width="3" height="3" fill="#000000" stroke="#ffffff" stroke-width="1"/>
<rect x="397" y="476" width="6" height="1" fill="#00ffff"/>
<path d="M403 476.5 L418 548" fill="none" stroke="#00ffff" stroke-width="1"/>
<rect x="398" y="472.5" width="3" height="3" fill="#000000" stroke="#ffffff" stroke-width="1"/>
<rect x="418" y="136" width="4" height="21" fill="#ffffff"/>
<rect x="418" y="136" width="18.5" height="4" fill="#ffffff"/>
<path d="M425 136.5 L427 135.4 L432 135.4 L434 136.4 L437.5 138.2 L434 140 L432.5 141.3 L427 141.3 L425 139.5 Z" fill="#ffffff" stroke="#ffffff" stroke-width="1"/>
<rect x="418" y="448.8" width="4" height="19.5" fill="#ffffff"/>
<rect x="418" y="464.3" width="18.5" height="4" fill="#ffffff"/>
<path d="M425 464.8 L427 463.7 L432 463.7 L434 464.7 L437.5 466.5 L434 468.3 L432.5 469.6 L427 469.6 L425 467.8 Z" fill="#ffffff" stroke="#ffffff" stroke-width="1"/>
<rect x="208.6" y="250.3" width="19.5" height="4" fill="#ffffff"/>
<rect x="208.6" y="250.3" width="4" height="19" fill="#ffffff"/>
<path d="M212.1 257.3 L213.2 259.3 L213.2 264.3 L212.2 266.3 L210.4 270.3 L208.6 266.3 L207.3 264.8 L207.3 259.3 L209.1 257.3 Z" fill="#ffffff" stroke="#ffffff" stroke-width="1"/>
<rect x="478.8" y="250" width="19.5" height="4" fill="#ffffff"/>
<rect x="494.3" y="250" width="4" height="19" fill="#ffffff"/>
<path d="M497.8 257 L498.9 259 L498.9 264 L497.9 266 L496.1 270 L494.3 266 L493 264.5 L493 259 L494.8 257 Z" fill="#ffffff" stroke="#ffffff" stroke-width="1"/>
<rect x="290" y="244" width="82" height="17" fill="#ffffff"/>
<rect x="314" y="232" width="56" height="41" fill="#ffffff"/>
<rect x="327" y="208.5" width="18" height="26" fill="#ffffff"/>
<rect x="312" y="221.5" width="17" height="21" rx="4" fill="#ffffff"/>
<rect x="329" y="216.5" width="2" height="15" fill="#000000"/>
<rect x="335" y="216.5" width="2" height="15" fill="#000000"/>
<rect x="324" y="236" width="42" height="1.4" fill="#000000"/>
<rect x="341" y="231" width="25" height="1.4" fill="#000000"/>
<rect x="341" y="219.5" width="1.4" height="12" fill="#000000"/>
<rect x="366" y="236.5" width="1" height="6" fill="#000000"/>
<rect x="328" y="216.5" width="19" height="1" fill="#ffff00"/>
<rect x="314" y="229.5" width="2" height="3" fill="#ff00ff"/>
<rect x="315" y="226.5" width="2" height="2" fill="#ffff00"/>
<rect x="327" y="270.5" width="18" height="26" fill="#ffffff"/>
<rect x="312" y="262.5" width="17" height="21" rx="4" fill="#ffffff"/>
<rect x="329" y="273.5" width="2" height="15" fill="#000000"/>
<rect x="335" y="273.5" width="2" height="15" fill="#000000"/>
<rect x="324" y="268" width="42" height="1.4" fill="#000000"/>
<rect x="341" y="273" width="25" height="1.4" fill="#000000"/>
<rect x="341" y="273.5" width="1.4" height="12" fill="#000000"/>
<rect x="366" y="262.5" width="1" height="6" fill="#000000"/>
<rect x="328" y="288.5" width="19" height="1" fill="#ffff00"/>
<rect x="314" y="273.5" width="2" height="3" fill="#ff00ff"/>
<rect x="315" y="276.5" width="2" height="2" fill="#ffff00"/>
<rect x="327" y="208" width="18" height="6" fill="#ffffff"/>
<rect x="330" y="285" width="16" height="10" fill="#ffffff"/>
<g clip-path="url(#h2)" stroke="#00ffff" stroke-width="1"><path d="M296.0 244L308.0 232M302.0 244L314.0 232M308.0 244L320.0 232M314.0 244L326.0 232M320.0 244L332.0 232M326.0 244L338.0 232M332.0 244L344.0 232M338.0 244L350.0 232M344.0 244L356.0 232M350.0 244L362.0 232M356.0 244L368.0 232M362.0 244L374.0 232M368.0 244L380.0 232M374.0 244L386.0 232M380.0 244L392.0 232M386.0 244L398.0 232" fill="none"/></g>
<g clip-path="url(#h3)" stroke="#00ffff" stroke-width="1"><path d="M296.0 273L308.0 261M302.0 273L314.0 261M308.0 273L320.0 261M314.0 273L326.0 261M320.0 273L332.0 261M326.0 273L338.0 261M332.0 273L344.0 261M338.0 273L350.0 261M344.0 273L356.0 261M350.0 273L362.0 261M356.0 273L368.0 261M362.0 273L374.0 261M368.0 273L380.0 261M374.0 273L386.0 261M380.0 273L392.0 261M386.0 273L398.0 261" fill="none"/></g>
<g clip-path="url(#h4)" stroke="#00ffff" stroke-width="1"><path d="M297.0 232L273.0 208M303.0 232L279.0 208M309.0 232L285.0 208M315.0 232L291.0 208M321.0 232L297.0 208M327.0 232L303.0 208M333.0 232L309.0 208M339.0 232L315.0 208M345.0 232L321.0 208M351.0 232L327.0 208M357.0 232L333.0 208M363.0 232L339.0 208M369.0 232L345.0 208" fill="none"/></g>
<g clip-path="url(#h5)" stroke="#00ffff" stroke-width="1"><path d="M298.0 296L275.0 273M304.0 296L281.0 273M310.0 296L287.0 273M316.0 296L293.0 273M322.0 296L299.0 273M328.0 296L305.0 273M334.0 296L311.0 273M340.0 296L317.0 273M346.0 296L323.0 273M352.0 296L329.0 273M358.0 296L335.0 273M364.0 296L341.0 273M370.0 296L347.0 273" fill="none"/></g>
<path d="M346 272 L369 272 L369 308 L354 300 L347 286 Z" fill="#000000" stroke="#ffffff" stroke-width="3"/>
<g clip-path="url(#h6)" stroke="#00ffff" stroke-width="1"><path d="M307.0 308L271.0 272M310.0 308L274.0 272M313.0 308L277.0 272M316.0 308L280.0 272M319.0 308L283.0 272M322.0 308L286.0 272M325.0 308L289.0 272M328.0 308L292.0 272M331.0 308L295.0 272M334.0 308L298.0 272M337.0 308L301.0 272M340.0 308L304.0 272M343.0 308L307.0 272M346.0 308L310.0 272M349.0 308L313.0 272M352.0 308L316.0 272M355.0 308L319.0 272M358.0 308L322.0 272M361.0 308L325.0 272M364.0 308L328.0 272M367.0 308L331.0 272M370.0 308L334.0 272M373.0 308L337.0 272M376.0 308L340.0 272M379.0 308L343.0 272M382.0 308L346.0 272M385.0 308L349.0 272M388.0 308L352.0 272M391.0 308L355.0 272M394.0 308L358.0 272M397.0 308L361.0 272M400.0 308L364.0 272M403.0 308L367.0 272M406.0 308L370.0 272" fill="none"/></g>
<rect x="315" y="248" width="57" height="9" fill="#000000"/>
<rect x="290" y="252" width="106" height="1" fill="#ffff00"/>
<rect x="281" y="246" width="1" height="14" fill="#00ffff"/>
<rect x="281" y="246" width="10" height="1" fill="#00ffff"/>
<rect x="281" y="259" width="10" height="1" fill="#00ffff"/>
<rect x="284" y="247" width="4" height="12" fill="#000000"/>
<rect x="288" y="246" width="1" height="14" fill="#00ffff"/>
<rect x="280.5" y="250.5" width="2" height="4" fill="#000000" stroke="#ffffff" stroke-width="1"/>
<rect x="317.75" y="260.75" width="3.5" height="3.5" fill="none" stroke="#00ffff" stroke-width="1.5"/>
<path d="M261 254 L270 251.5 L278 253 L278 255 L270 257 Z" fill="#ffffff" stroke="#ffffff" stroke-width="1"/>
<text x="270.5" y="248" font-size="7" fill="#ffffff" text-anchor="middle" filter="url(#crisp)">A</text>
<path d="M372 244 L376 236 L381 229 L389 235 L393 244 L398 252 L393 262 L389 270 L381 276 L376 269 L372 261 Z" fill="#ffffff" stroke="#ffffff" stroke-width="1"/>
<g clip-path="url(#h7)" stroke="#000000" stroke-width="1"><path d="M363.0 244L370.0 237M366.0 244L373.0 237M369.0 244L376.0 237M372.0 244L379.0 237M375.0 244L382.0 237M378.0 244L385.0 237M381.0 244L388.0 237M384.0 244L391.0 237M387.0 244L394.0 237M390.0 244L397.0 237M393.0 244L400.0 237M396.0 244L403.0 237" fill="none"/></g>
<g clip-path="url(#h8)" stroke="#000000" stroke-width="1"><path d="M363.0 268L370.0 261M366.0 268L373.0 261M369.0 268L376.0 261M372.0 268L379.0 261M375.0 268L382.0 261M378.0 268L385.0 261M381.0 268L388.0 261M384.0 268L391.0 261M387.0 268L394.0 261M390.0 268L397.0 261M393.0 268L400.0 261M396.0 268L403.0 261" fill="none"/></g>
<rect x="372" y="252" width="24" height="1" fill="#ffff00"/>
<rect x="574" y="108" width="8" height="1" fill="#00ffff"/>
<path d="M582 108.5 L637 232" fill="none" stroke="#00ffff" stroke-width="1"/>
<rect x="575.5" y="104" width="3" height="3" fill="#000000" stroke="#ffffff" stroke-width="1"/>
<rect x="597" y="108" width="8" height="1" fill="#00ffff"/>
<path d="M605 108.5 L640 236" fill="none" stroke="#00ffff" stroke-width="1"/>
<rect x="598.5" y="104" width="3" height="3" fill="#000000" stroke="#ffffff" stroke-width="1"/>
<rect x="613" y="108" width="8" height="1" fill="#00ffff"/>
<path d="M621 108.5 L643 238" fill="none" stroke="#00ffff" stroke-width="1"/>
<rect x="614.5" y="104" width="3" height="3" fill="#000000" stroke="#ffffff" stroke-width="1"/>
<rect x="634" y="108" width="8" height="1" fill="#00ffff"/>
<path d="M642 108.5 L660 248" fill="none" stroke="#00ffff" stroke-width="1"/>
<rect x="635.5" y="104" width="3" height="3" fill="#000000" stroke="#ffffff" stroke-width="1"/>
<rect x="663.5" y="108" width="8" height="1" fill="#00ffff"/>
<path d="M671.5 108.5 L690 238" fill="none" stroke="#00ffff" stroke-width="1"/>
<rect x="665" y="104" width="3" height="3" fill="#000000" stroke="#ffffff" stroke-width="1"/>
<rect x="700" y="108" width="8" height="1" fill="#00ffff"/>
<path d="M708 108.5 L719 250" fill="none" stroke="#00ffff" stroke-width="1"/>
<rect x="701.5" y="104" width="3" height="3" fill="#000000" stroke="#ffffff" stroke-width="1"/>
<rect x="719" y="108" width="8" height="1" fill="#00ffff"/>
<path d="M727 108.5 L731 214 L733 222" fill="none" stroke="#00ffff" stroke-width="1"/>
<rect x="720.5" y="104" width="3" height="3" fill="#000000" stroke="#ffffff" stroke-width="1"/>
<rect x="738" y="108" width="10" height="1" fill="#00ffff"/>
<path d="M738 108.5 L742 236" fill="none" stroke="#00ffff" stroke-width="1"/>
<rect x="742.5" y="104" width="3" height="3" fill="#000000" stroke="#ffffff" stroke-width="1"/>
<rect x="641" y="162" width="118" height="1" fill="#00ffff"/>
<rect x="641" y="160" width="1" height="37" fill="#00ffff"/>
<rect x="758" y="160" width="1" height="40" fill="#00ffff"/>
<rect x="663.5" y="158.5" width="5" height="3" fill="#000000" stroke="#ffffff" stroke-width="1"/>
<rect x="690.5" y="158.5" width="3" height="3" fill="#000000" stroke="#ffffff" stroke-width="1"/>
<rect x="698" y="158.5" width="3" height="3" fill="#000000" stroke="#ffffff" stroke-width="1"/>
<rect x="706.5" y="158.5" width="3" height="3" fill="#000000" stroke="#ffffff" stroke-width="1"/>
<rect x="731.5" y="158.5" width="5" height="3" fill="#000000" stroke="#ffffff" stroke-width="1"/>
<rect x="690" y="162" width="1" height="16" fill="#00ffff"/>
<rect x="693" y="162" width="1" height="16" fill="#00ffff"/>
<rect x="706" y="162" width="1" height="16" fill="#00ffff"/>
<rect x="709" y="162" width="1" height="16" fill="#00ffff"/>
<rect x="565" y="178" width="126" height="1" fill="#00ffff"/>
<rect x="565" y="198" width="76" height="1" fill="#00ffff"/>
<rect x="568" y="178" width="1" height="268" fill="#00ffff"/>
<rect x="564.5" y="185.5" width="3" height="6" fill="#000000" stroke="#ffffff" stroke-width="1"/>
<rect x="568" y="445" width="109" height="1" fill="#00ffff"/>
<rect x="602" y="252" width="1" height="148" fill="#00ffff"/>
<rect x="611" y="252" width="1" height="33" fill="#00ffff"/>
<rect x="616" y="264" width="1" height="41" fill="#00ffff"/>
<rect x="600" y="252" width="37" height="1" fill="#00ffff"/>
<rect x="614" y="264" width="21" height="1" fill="#00ffff"/>
<rect x="609" y="284" width="15" height="1" fill="#00ffff"/>
<rect x="614" y="304" width="22" height="1" fill="#00ffff"/>
<rect x="600" y="400" width="52" height="1" fill="#00ffff"/>
<rect x="607.5" y="266.5" width="3" height="4" fill="#000000" stroke="#ffffff" stroke-width="1"/>
<rect x="613.5" y="280.5" width="3" height="7" fill="#000000" stroke="#ffffff" stroke-width="1"/>
<rect x="598.5" y="283.5" width="3" height="5" fill="#000000" stroke="#ffffff" stroke-width="1"/>
<rect x="598.5" y="356.5" width="3" height="4" fill="#000000" stroke="#ffffff" stroke-width="1"/>
<rect x="765" y="264" width="27" height="1" fill="#00ffff"/>
<rect x="788" y="264" width="1" height="41" fill="#00ffff"/>
<rect x="765" y="304" width="27" height="1" fill="#00ffff"/>
<rect x="785.5" y="280.5" width="3" height="7" fill="#000000" stroke="#ffffff" stroke-width="1"/>
<rect x="772" y="300" width="15" height="3.5" fill="#000000" stroke="#ffffff" stroke-width="1"/>
<path d="M806.5 283.5 L724.5 318.5" fill="none" stroke="#00ffff" stroke-width="1"/>
<rect x="806" y="283" width="10" height="1" fill="#00ffff"/>
<rect x="810.5" y="280.5" width="3" height="3" fill="#000000" stroke="#ffffff" stroke-width="1"/>
<rect x="810.5" y="299.5" width="8" height="3" fill="#000000" stroke="#ffffff" stroke-width="1"/>
<path d="M805 344.5 L716 388" fill="none" stroke="#00ffff" stroke-width="1"/>
<rect x="805" y="344" width="9" height="1" fill="#00ffff"/>
<rect x="808.5" y="340.5" width="3" height="3" fill="#000000" stroke="#ffffff" stroke-width="1"/>
<path d="M806 359.8 L746 394" fill="none" stroke="#00ffff" stroke-width="1"/>
<rect x="806" y="359" width="22" height="1" fill="#00ffff"/>
<rect x="808.5" y="356" width="13" height="3.5" fill="#000000" stroke="#ffffff" stroke-width="1"/>
<rect x="764" y="377" width="22" height="1" fill="#00ffff"/>
<rect x="767.5" y="374" width="15" height="3.5" fill="#000000" stroke="#ffffff" stroke-width="1"/>
<rect x="756" y="307" width="1" height="33" fill="#00ffff"/>
<rect x="768" y="304" width="1" height="32" fill="#00ffff"/>
<rect x="735" y="339" width="22" height="1" fill="#00ffff"/>
<rect x="737.5" y="335.5" width="16" height="3.5" fill="#000000" stroke="#ffffff" stroke-width="1"/>
<rect x="722" y="308" width="49" height="1" fill="#00ffff"/>
<rect x="721" y="312" width="38" height="1" fill="#00ffff"/>
<rect x="721" y="325" width="38" height="1" fill="#00ffff"/>
<rect x="721" y="329" width="50" height="1" fill="#00ffff"/>
<rect x="651" y="302" width="1" height="33" fill="#00ffff"/>
<rect x="656" y="305" width="1" height="27" fill="#00ffff"/>
<rect x="661" y="308" width="1" height="21" fill="#00ffff"/>
<rect x="668" y="311" width="1" height="34" fill="#00ffff"/>
<rect x="677" y="308" width="1" height="17" fill="#00ffff"/>
<rect x="651" y="302" width="26" height="1" fill="#00ffff"/>
<rect x="656" y="305" width="21" height="1" fill="#00ffff"/>
<rect x="661" y="308" width="18" height="1" fill="#00ffff"/>
<rect x="666" y="312" width="13" height="1" fill="#00ffff"/>
<rect x="600" y="319" width="74" height="1" fill="#00ffff"/>
<rect x="666" y="325" width="13" height="1" fill="#00ffff"/>
<rect x="661" y="329" width="18" height="1" fill="#00ffff"/>
<rect x="656" y="332" width="21" height="1" fill="#00ffff"/>
<rect x="649" y="335" width="28" height="1" fill="#00ffff"/>
<rect x="647" y="345" width="22" height="1" fill="#00ffff"/>
<rect x="650.5" y="341.5" width="15" height="3.5" fill="#000000" stroke="#ffffff" stroke-width="1"/>
<rect x="648.5" y="315.5" width="3" height="7" fill="#000000" stroke="#ffffff" stroke-width="1"/>
<rect x="653.5" y="316.5" width="3" height="5" fill="#000000" stroke="#ffffff" stroke-width="1"/>
<rect x="658.5" y="312.5" width="4" height="14" fill="#000000" stroke="#ffffff" stroke-width="1"/>
<rect x="639" y="196" width="121" height="7" fill="#ffffff"/>
<rect x="639" y="196" width="7" height="48" fill="#ffffff"/>
<rect x="753" y="196" width="7" height="48" fill="#ffffff"/>
<rect x="635" y="233" width="21" height="29" fill="#ffffff"/>
<rect x="744" y="233" width="21" height="29" fill="#ffffff"/>
<rect x="635" y="244" width="130" height="16" fill="#ffffff"/>
<rect x="635" y="258" width="11" height="52" fill="#ffffff"/>
<rect x="753" y="258" width="12" height="52" fill="#ffffff"/>
<rect x="635" y="297" width="51" height="14" fill="#ffffff"/>
<rect x="714" y="297" width="52" height="14" fill="#ffffff"/>
<rect x="688" y="177" width="7" height="20" fill="#ffffff"/>
<rect x="704" y="177" width="7" height="20" fill="#ffffff"/>
<rect x="690" y="181" width="4" height="1" fill="#ff00ff"/>
<rect x="689" y="183" width="7" height="1" fill="#ffff00"/>
<rect x="706" y="181" width="4" height="1" fill="#ff00ff"/>
<rect x="705" y="183" width="7" height="1" fill="#ffff00"/>
<rect x="675" y="310" width="49" height="137" fill="#ffffff"/>
<rect x="676" y="311" width="48" height="17" fill="#ffffff"/>
<rect x="652" y="392" width="97" height="16" fill="#ffffff"/>
<rect x="671" y="382" width="5" height="9" fill="#ffffff"/>
<rect x="723" y="382" width="4" height="9" fill="#ffffff"/>
<rect x="673" y="409" width="3" height="7" fill="#ffffff"/>
<rect x="723" y="409" width="3" height="7" fill="#ffffff"/>
<rect x="671" y="332" width="6" height="8" fill="#ffffff"/>
<rect x="722" y="330" width="6" height="8" fill="#ffffff"/>
<g clip-path="url(#h9)" stroke="#00ffff" stroke-width="1"><path d="M631.0 202L636.0 197M635.0 202L640.0 197M639.0 202L644.0 197M643.0 202L648.0 197M647.0 202L652.0 197M651.0 202L656.0 197M655.0 202L660.0 197M659.0 202L664.0 197M663.0 202L668.0 197M667.0 202L672.0 197M671.0 202L676.0 197M675.0 202L680.0 197M679.0 202L684.0 197M683.0 202L688.0 197M687.0 202L692.0 197M691.0 202L696.0 197M695.0 202L700.0 197M699.0 202L704.0 197M703.0 202L708.0 197M707.0 202L712.0 197M711.0 202L716.0 197M715.0 202L720.0 197M719.0 202L724.0 197M723.0 202L728.0 197M727.0 202L732.0 197M731.0 202L736.0 197M735.0 202L740.0 197M739.0 202L744.0 197M743.0 202L748.0 197M747.0 202L752.0 197M751.0 202L756.0 197M755.0 202L760.0 197M759.0 202L764.0 197M763.0 202L768.0 197M767.0 202L772.0 197" fill="none"/></g>
<g clip-path="url(#h10)" stroke="#00ffff" stroke-width="1"><path d="M596.0 243L556.0 203M600.0 243L560.0 203M604.0 243L564.0 203M608.0 243L568.0 203M612.0 243L572.0 203M616.0 243L576.0 203M620.0 243L580.0 203M624.0 243L584.0 203M628.0 243L588.0 203M632.0 243L592.0 203M636.0 243L596.0 203M640.0 243L600.0 203M644.0 243L604.0 203M648.0 243L608.0 203M652.0 243L612.0 203M656.0 243L616.0 203M660.0 243L620.0 203M664.0 243L624.0 203M668.0 243L628.0 203M672.0 243L632.0 203M676.0 243L636.0 203M680.0 243L640.0 203M684.0 243L644.0 203M688.0 243L648.0 203" fill="none"/></g>
<g clip-path="url(#h11)" stroke="#00ffff" stroke-width="1"><path d="M710.0 243L670.0 203M714.0 243L674.0 203M718.0 243L678.0 203M722.0 243L682.0 203M726.0 243L686.0 203M730.0 243L690.0 203M734.0 243L694.0 203M738.0 243L698.0 203M742.0 243L702.0 203M746.0 243L706.0 203M750.0 243L710.0 203M754.0 243L714.0 203M758.0 243L718.0 203M762.0 243L722.0 203M766.0 243L726.0 203M770.0 243L730.0 203M774.0 243L734.0 203M778.0 243L738.0 203M782.0 243L742.0 203M786.0 243L746.0 203M790.0 243L750.0 203M794.0 243L754.0 203M798.0 243L758.0 203M802.0 243L762.0 203" fill="none"/></g>
<g clip-path="url(#h12)" stroke="#00ffff" stroke-width="1"><path d="M599.0 298L563.0 262M604.0 298L568.0 262M609.0 298L573.0 262M614.0 298L578.0 262M619.0 298L583.0 262M624.0 298L588.0 262M629.0 298L593.0 262M634.0 298L598.0 262M639.0 298L603.0 262M644.0 298L608.0 262M649.0 298L613.0 262M654.0 298L618.0 262M659.0 298L623.0 262M664.0 298L628.0 262M669.0 298L633.0 262M674.0 298L638.0 262M679.0 298L643.0 262M684.0 298L648.0 262" fill="none"/></g>
<g clip-path="url(#h13)" stroke="#00ffff" stroke-width="1"><path d="M713.0 298L677.0 262M718.0 298L682.0 262M723.0 298L687.0 262M728.0 298L692.0 262M733.0 298L697.0 262M738.0 298L702.0 262M743.0 298L707.0 262M748.0 298L712.0 262M753.0 298L717.0 262M758.0 298L722.0 262M763.0 298L727.0 262M768.0 298L732.0 262M773.0 298L737.0 262M778.0 298L742.0 262M783.0 298L747.0 262M788.0 298L752.0 262M793.0 298L757.0 262M798.0 298L762.0 262" fill="none"/></g>
<rect x="638.5" y="270" width="1" height="34" fill="#000000"/>
<rect x="760.5" y="270" width="1" height="34" fill="#000000"/>
<g clip-path="url(#h14)" stroke="#00ffff" stroke-width="1"><path d="M635.0 304L629.0 298M640.0 304L634.0 298M645.0 304L639.0 298M650.0 304L644.0 298M655.0 304L649.0 298M660.0 304L654.0 298M665.0 304L659.0 298M670.0 304L664.0 298M675.0 304L669.0 298M680.0 304L674.0 298M685.0 304L679.0 298M690.0 304L684.0 298M695.0 304L689.0 298" fill="none"/></g>
<g clip-path="url(#h15)" stroke="#00ffff" stroke-width="1"><path d="M703.0 304L697.0 298M708.0 304L702.0 298M713.0 304L707.0 298M718.0 304L712.0 298M723.0 304L717.0 298M728.0 304L722.0 298M733.0 304L727.0 298M738.0 304L732.0 298M743.0 304L737.0 298M748.0 304L742.0 298M753.0 304L747.0 298M758.0 304L752.0 298M763.0 304L757.0 298" fill="none"/></g>
<rect x="647" y="305" width="36" height="2" fill="#000000"/>
<rect x="717" y="305" width="36" height="2" fill="#000000"/>
<rect x="640" y="306" width="8" height="1" fill="#ff00ff"/>
<rect x="748" y="306" width="8" height="1" fill="#ff00ff"/>
<rect x="640" y="304" width="6" height="1" fill="#ffff00"/>
<rect x="644" y="248" width="39" height="4" fill="#000000"/>
<rect x="644" y="253.5" width="39" height="3" fill="#000000"/>
<rect x="739" y="248" width="17" height="4" fill="#000000"/>
<rect x="739" y="253.5" width="17" height="3" fill="#000000"/>
<rect x="709" y="248" width="8" height="3.5" fill="#000000"/>
<rect x="709" y="254" width="8" height="2.5" fill="#000000"/>
<rect x="641" y="252" width="123" height="1" fill="#ffff00"/>
<rect x="649" y="237" width="3" height="2" fill="#000000"/>
<rect x="649" y="265" width="3" height="2" fill="#000000"/>
<rect x="748" y="237" width="3" height="2" fill="#000000"/>
<rect x="748" y="265" width="3" height="2" fill="#000000"/>
<rect x="636" y="238" width="4" height="1" fill="#ffff00"/>
<rect x="760" y="238" width="4" height="1" fill="#ff00ff"/>
<rect x="646" y="258" width="10" height="12" fill="#ffffff"/>
<rect x="744" y="258" width="9" height="12" fill="#ffffff"/>
<rect x="648" y="265" width="4" height="2" fill="#000000"/>
<rect x="749" y="265" width="4" height="2" fill="#000000"/>
<rect x="690" y="226" width="19" height="18" fill="#ffffff"/>
<rect x="692" y="228" width="15" height="15" fill="#00ffff"/>
<g clip-path="url(#h16)" stroke="#000000" stroke-width="1"><path d="M674.0 243L689.0 228M677.0 243L692.0 228M680.0 243L695.0 228M683.0 243L698.0 228M686.0 243L701.0 228M689.0 243L704.0 228M692.0 243L707.0 228M695.0 243L710.0 228M698.0 243L713.0 228M701.0 243L716.0 228M704.0 243L719.0 228M707.0 243L722.0 228M710.0 243L725.0 228M713.0 243L728.0 228M716.0 243L731.0 228M719.0 243L734.0 228M722.0 243L737.0 228" fill="none"/></g>
<rect x="690" y="260" width="19" height="17" fill="#ffffff"/>
<rect x="692" y="262" width="15" height="14" fill="#00ffff"/>
<g clip-path="url(#h17)" stroke="#000000" stroke-width="1"><path d="M675.0 276L689.0 262M678.0 276L692.0 262M681.0 276L695.0 262M684.0 276L698.0 262M687.0 276L701.0 262M690.0 276L704.0 262M693.0 276L707.0 262M696.0 276L710.0 262M699.0 276L713.0 262M702.0 276L716.0 262M705.0 276L719.0 262M708.0 276L722.0 262M711.0 276L725.0 262M714.0 276L728.0 262M717.0 276L731.0 262M720.0 276L734.0 262M723.0 276L737.0 262" fill="none"/></g>
<rect x="683" y="236" width="8" height="8" fill="#ffffff"/>
<rect x="683" y="260" width="8" height="8" fill="#ffffff"/>
<rect x="687" y="239" width="2" height="4" fill="#ff00ff"/>
<rect x="687" y="262" width="2" height="4" fill="#ff00ff"/>
<path d="M712 214 L717 207 L727 212 L729 221 L739 222 L739 244 L712 244 Z" fill="#ffffff" stroke="#ffffff" stroke-width="1.5"/>
<path d="M717 214 L724 214 L727 224 L736 225 L736 243 L717 243 Z" fill="#000000" stroke="#00ffff" stroke-width="1"/>
<g clip-path="url(#h18)" stroke="#00ffff" stroke-width="1"><path d="M685.0 243L714.0 214M688.0 243L717.0 214M691.0 243L720.0 214M694.0 243L723.0 214M697.0 243L726.0 214M700.0 243L729.0 214M703.0 243L732.0 214M706.0 243L735.0 214M709.0 243L738.0 214M712.0 243L741.0 214M715.0 243L744.0 214M718.0 243L747.0 214M721.0 243L750.0 214M724.0 243L753.0 214M727.0 243L756.0 214M730.0 243L759.0 214M733.0 243L762.0 214M736.0 243L765.0 214M739.0 243L768.0 214M742.0 243L771.0 214M745.0 243L774.0 214M748.0 243L777.0 214M751.0 243L780.0 214M754.0 243L783.0 214M757.0 243L786.0 214M760.0 243L789.0 214M763.0 243L792.0 214M766.0 243L795.0 214" fill="none"/></g>
<path d="M712 260 L739 260 L739 283 L729 283 L727 292 L717 296 L712 288 Z" fill="#ffffff" stroke="#ffffff" stroke-width="1.5"/>
<path d="M717 261 L736 261 L736 280 L727 281 L724 290 L717 290 Z" fill="#000000" stroke="#00ffff" stroke-width="1"/>
<g clip-path="url(#h19)" stroke="#00ffff" stroke-width="1"><path d="M685.0 290L714.0 261M688.0 290L717.0 261M691.0 290L720.0 261M694.0 290L723.0 261M697.0 290L726.0 261M700.0 290L729.0 261M703.0 290L732.0 261M706.0 290L735.0 261M709.0 290L738.0 261M712.0 290L741.0 261M715.0 290L744.0 261M718.0 290L747.0 261M721.0 290L750.0 261M724.0 290L753.0 261M727.0 290L756.0 261M730.0 290L759.0 261M733.0 290L762.0 261M736.0 290L765.0 261M739.0 290L768.0 261M742.0 290L771.0 261M745.0 290L774.0 261M748.0 290L777.0 261M751.0 290L780.0 261M754.0 290L783.0 261M757.0 290L786.0 261M760.0 290L789.0 261M763.0 290L792.0 261M766.0 290L795.0 261" fill="none"/></g>
<rect x="713" y="224" width="1" height="16" fill="#ff00ff"/>
<rect x="713" y="264" width="1" height="22" fill="#ff00ff"/>
<path d="M707 234 L713 220" fill="none" stroke="#ffff00" stroke-width="1"/>
<path d="M707 272 L714 292 L719 300" fill="none" stroke="#ffff00" stroke-width="1"/>
<path d="M714 292 L719 300" fill="none" stroke="#ff00ff" stroke-width="1"/>
<rect x="676" y="228" width="1" height="49" fill="#00ffff"/>
<rect x="673" y="228" width="21" height="1" fill="#00ffff"/>
<rect x="673" y="276" width="21" height="1" fill="#00ffff"/>
<rect x="672.5" y="250" width="2.5" height="5.5" fill="#000000" stroke="#ffffff" stroke-width="1"/>
<rect x="686" y="329" width="5" height="111" fill="#000000"/>
<rect x="708" y="329" width="5" height="111" fill="#000000"/>
<rect x="679" y="336" width="3.5" height="52" fill="#000000"/>
<g clip-path="url(#h20)" stroke="#00ffff" stroke-width="1"><path d="M624.0 388L676.0 336M627.0 388L679.0 336M630.0 388L682.0 336M633.0 388L685.0 336M636.0 388L688.0 336M639.0 388L691.0 336M642.0 388L694.0 336M645.0 388L697.0 336M648.0 388L700.0 336M651.0 388L703.0 336M654.0 388L706.0 336M657.0 388L709.0 336M660.0 388L712.0 336M663.0 388L715.0 336M666.0 388L718.0 336M669.0 388L721.0 336M672.0 388L724.0 336M675.0 388L727.0 336M678.0 388L730.0 336M681.0 388L733.0 336M684.0 388L736.0 336M687.0 388L739.0 336M690.0 388L742.0 336M693.0 388L745.0 336M696.0 388L748.0 336M699.0 388L751.0 336M702.0 388L754.0 336M705.0 388L757.0 336M708.0 388L760.0 336M711.0 388L763.0 336M714.0 388L766.0 336M717.0 388L769.0 336M720.0 388L772.0 336M723.0 388L775.0 336M726.0 388L778.0 336M729.0 388L781.0 336M732.0 388L784.0 336M735.0 388L787.0 336" fill="none"/></g>
<rect x="717" y="336" width="3.5" height="52" fill="#000000"/>
<g clip-path="url(#h21)" stroke="#00ffff" stroke-width="1"><path d="M662.0 388L714.0 336M665.0 388L717.0 336M668.0 388L720.0 336M671.0 388L723.0 336M674.0 388L726.0 336M677.0 388L729.0 336M680.0 388L732.0 336M683.0 388L735.0 336M686.0 388L738.0 336M689.0 388L741.0 336M692.0 388L744.0 336M695.0 388L747.0 336M698.0 388L750.0 336M701.0 388L753.0 336M704.0 388L756.0 336M707.0 388L759.0 336M710.0 388L762.0 336M713.0 388L765.0 336M716.0 388L768.0 336M719.0 388L771.0 336M722.0 388L774.0 336M725.0 388L777.0 336M728.0 388L780.0 336M731.0 388L783.0 336M734.0 388L786.0 336M737.0 388L789.0 336M740.0 388L792.0 336M743.0 388L795.0 336M746.0 388L798.0 336M749.0 388L801.0 336M752.0 388L804.0 336M755.0 388L807.0 336M758.0 388L810.0 336M761.0 388L813.0 336M764.0 388L816.0 336M767.0 388L819.0 336M770.0 388L822.0 336M773.0 388L825.0 336" fill="none"/></g>
<g clip-path="url(#h22)" stroke="#00ffff" stroke-width="1"><path d="M626.5 388L678.5 336M630.5 388L682.5 336M634.5 388L686.5 336M638.5 388L690.5 336M642.5 388L694.5 336M646.5 388L698.5 336M650.5 388L702.5 336M654.5 388L706.5 336M658.5 388L710.5 336M662.5 388L714.5 336M666.5 388L718.5 336M670.5 388L722.5 336M674.5 388L726.5 336M678.5 388L730.5 336M682.5 388L734.5 336M686.5 388L738.5 336M690.5 388L742.5 336M694.5 388L746.5 336M698.5 388L750.5 336M702.5 388L754.5 336M706.5 388L758.5 336M710.5 388L762.5 336M714.5 388L766.5 336M718.5 388L770.5 336M722.5 388L774.5 336M726.5 388L778.5 336M730.5 388L782.5 336M734.5 388L786.5 336M738.5 388L790.5 336" fill="none"/></g>
<g clip-path="url(#h23)" stroke="#00ffff" stroke-width="1"><path d="M657.0 388L709.0 336M661.0 388L713.0 336M665.0 388L717.0 336M669.0 388L721.0 336M673.0 388L725.0 336M677.0 388L729.0 336M681.0 388L733.0 336M685.0 388L737.0 336M689.0 388L741.0 336M693.0 388L745.0 336M697.0 388L749.0 336M701.0 388L753.0 336M705.0 388L757.0 336M709.0 388L761.0 336M713.0 388L765.0 336M717.0 388L769.0 336M721.0 388L773.0 336M725.0 388L777.0 336M729.0 388L781.0 336M733.0 388L785.0 336M737.0 388L789.0 336M741.0 388L793.0 336M745.0 388L797.0 336M749.0 388L801.0 336M753.0 388L805.0 336M757.0 388L809.0 336M761.0 388L813.0 336M765.0 388L817.0 336M769.0 388L821.0 336" fill="none"/></g>
<rect x="679" y="414" width="3.5" height="26" fill="#000000"/>
<g clip-path="url(#h24)" stroke="#00ffff" stroke-width="1"><path d="M650.0 440L676.0 414M653.0 440L679.0 414M656.0 440L682.0 414M659.0 440L685.0 414M662.0 440L688.0 414M665.0 440L691.0 414M668.0 440L694.0 414M671.0 440L697.0 414M674.0 440L700.0 414M677.0 440L703.0 414M680.0 440L706.0 414M683.0 440L709.0 414M686.0 440L712.0 414M689.0 440L715.0 414M692.0 440L718.0 414M695.0 440L721.0 414M698.0 440L724.0 414M701.0 440L727.0 414M704.0 440L730.0 414M707.0 440L733.0 414M710.0 440L736.0 414" fill="none"/></g>
<rect x="717" y="414" width="3.5" height="26" fill="#000000"/>
<g clip-path="url(#h25)" stroke="#00ffff" stroke-width="1"><path d="M688.0 440L714.0 414M691.0 440L717.0 414M694.0 440L720.0 414M697.0 440L723.0 414M700.0 440L726.0 414M703.0 440L729.0 414M706.0 440L732.0 414M709.0 440L735.0 414M712.0 440L738.0 414M715.0 440L741.0 414M718.0 440L744.0 414M721.0 440L747.0 414M724.0 440L750.0 414M727.0 440L753.0 414M730.0 440L756.0 414M733.0 440L759.0 414M736.0 440L762.0 414M739.0 440L765.0 414M742.0 440L768.0 414M745.0 440L771.0 414M748.0 440L774.0 414" fill="none"/></g>
<g clip-path="url(#h26)" stroke="#00ffff" stroke-width="1"><path d="M652.5 440L678.5 414M656.5 440L682.5 414M660.5 440L686.5 414M664.5 440L690.5 414M668.5 440L694.5 414M672.5 440L698.5 414M676.5 440L702.5 414M680.5 440L706.5 414M684.5 440L710.5 414M688.5 440L714.5 414M692.5 440L718.5 414M696.5 440L722.5 414M700.5 440L726.5 414M704.5 440L730.5 414M708.5 440L734.5 414M712.5 440L738.5 414" fill="none"/></g>
<g clip-path="url(#h27)" stroke="#00ffff" stroke-width="1"><path d="M683.0 440L709.0 414M687.0 440L713.0 414M691.0 440L717.0 414M695.0 440L721.0 414M699.0 440L725.0 414M703.0 440L729.0 414M707.0 440L733.0 414M711.0 440L737.0 414M715.0 440L741.0 414M719.0 440L745.0 414M723.0 440L749.0 414M727.0 440L753.0 414M731.0 440L757.0 414M735.0 440L761.0 414M739.0 440L765.0 414M743.0 440L769.0 414" fill="none"/></g>
<rect x="695" y="279" width="9" height="31" fill="#000000"/>
<g clip-path="url(#h28)" stroke="#00ffff" stroke-width="1"><path d="M660.0 310L691.0 279M664.0 310L695.0 279M668.0 310L699.0 279M672.0 310L703.0 279M676.0 310L707.0 279M680.0 310L711.0 279M684.0 310L715.0 279M688.0 310L719.0 279M692.0 310L723.0 279M696.0 310L727.0 279M700.0 310L731.0 279M704.0 310L735.0 279M708.0 310L739.0 279M712.0 310L743.0 279M716.0 310L747.0 279M720.0 310L751.0 279M724.0 310L755.0 279M728.0 310L759.0 279M732.0 310L763.0 279M736.0 310L767.0 279" fill="none"/></g>
<rect x="695" y="327" width="9" height="31" fill="#000000"/>
<g clip-path="url(#h29)" stroke="#00ffff" stroke-width="1"><path d="M660.0 358L691.0 327M664.0 358L695.0 327M668.0 358L699.0 327M672.0 358L703.0 327M676.0 358L707.0 327M680.0 358L711.0 327M684.0 358L715.0 327M688.0 358L719.0 327M692.0 358L723.0 327M696.0 358L727.0 327M700.0 358L731.0 327M704.0 358L735.0 327M708.0 358L739.0 327M712.0 358L743.0 327M716.0 358L747.0 327M720.0 358L751.0 327M724.0 358L755.0 327M728.0 358L759.0 327M732.0 358L763.0 327M736.0 358L767.0 327" fill="none"/></g>
<rect x="695" y="365" width="9" height="23" fill="#000000"/>
<g clip-path="url(#h30)" stroke="#00ffff" stroke-width="1"><path d="M669.0 388L646.0 365M672.0 388L649.0 365M675.0 388L652.0 365M678.0 388L655.0 365M681.0 388L658.0 365M684.0 388L661.0 365M687.0 388L664.0 365M690.0 388L667.0 365M693.0 388L670.0 365M696.0 388L673.0 365M699.0 388L676.0 365M702.0 388L679.0 365M705.0 388L682.0 365M708.0 388L685.0 365M711.0 388L688.0 365M714.0 388L691.0 365M717.0 388L694.0 365M720.0 388L697.0 365M723.0 388L700.0 365M726.0 388L703.0 365M729.0 388L706.0 365" fill="none"/></g>
<rect x="695" y="409" width="9" height="26" fill="#000000"/>
<g clip-path="url(#h31)" stroke="#00ffff" stroke-width="1"><path d="M666.0 435L640.0 409M669.0 435L643.0 409M672.0 435L646.0 409M675.0 435L649.0 409M678.0 435L652.0 409M681.0 435L655.0 409M684.0 435L658.0 409M687.0 435L661.0 409M690.0 435L664.0 409M693.0 435L667.0 409M696.0 435L670.0 409M699.0 435L673.0 409M702.0 435L676.0 409M705.0 435L679.0 409M708.0 435L682.0 409M711.0 435L685.0 409M714.0 435L688.0 409M717.0 435L691.0 409M720.0 435L694.0 409M723.0 435L697.0 409M726.0 435L700.0 409M729.0 435L703.0 409M732.0 435L706.0 409" fill="none"/></g>
<rect x="691" y="358" width="17" height="7" fill="#ffffff"/>
<rect x="686" y="277" width="9" height="34" fill="#ffffff"/>
<rect x="704" y="277" width="10" height="34" fill="#ffffff"/>
<rect x="687" y="280" width="4" height="28" fill="#000000"/>
<rect x="708" y="296" width="5" height="12" fill="#000000"/>
<rect x="680" y="314" width="24" height="12" fill="#000000"/>
<rect x="708" y="313" width="7" height="13" fill="#000000"/>
<path d="M691 319.5 L695 316 L704 316 L704 323 L695 323 Z" fill="#ffffff" stroke="#ffffff" stroke-width="1"/>
<rect x="708" y="311" width="1" height="17" fill="#00ffff"/>
<rect x="708" y="311" width="4" height="1" fill="#00ffff"/>
<rect x="708" y="327" width="4" height="1" fill="#00ffff"/>
<rect x="680" y="319" width="36" height="1" fill="#ffff00"/>
<rect x="676" y="395" width="22" height="10" fill="#000000"/>
<rect x="718" y="395" width="6" height="10" fill="#000000"/>
<rect x="727" y="395" width="5" height="10" fill="#000000"/>
<path d="M691 400 L696 396 L712 396 L712 405 L696 405 Z" fill="#ffffff" stroke="#ffffff" stroke-width="1"/>
<rect x="654" y="400" width="92" height="1" fill="#ffff00"/>
<rect x="712" y="396" width="3" height="9" fill="#000000"/>
<g clip-path="url(#h32)" stroke="#00ffff" stroke-width="1"><path d="M667.0 446L662.0 441M671.0 446L666.0 441M675.0 446L670.0 441M679.0 446L674.0 441M683.0 446L678.0 441M687.0 446L682.0 441M691.0 446L686.0 441M695.0 446L690.0 441M699.0 446L694.0 441M703.0 446L698.0 441M707.0 446L702.0 441M711.0 446L706.0 441M715.0 446L710.0 441M719.0 446L714.0 441M723.0 446L718.0 441M727.0 446L722.0 441M731.0 446L726.0 441" fill="none"/></g>
<rect x="700" y="192" width="1" height="261" fill="#ffff00"/>
<rect x="630" y="284" width="58" height="1" fill="#ffff00"/>
<rect x="712" y="284" width="58" height="1" fill="#ffff00"/>
<rect x="676" y="350" width="49" height="1" fill="#00ffff"/>
<rect x="698" y="346.5" width="4.5" height="3" fill="#000000" stroke="#ffffff" stroke-width="1"/>
<rect x="677" y="336" width="1" height="18" fill="#00ffff"/>
<rect x="723" y="336" width="1" height="18" fill="#00ffff"/>
<rect x="628" y="393" width="25" height="1" fill="#00ffff"/>
<rect x="628" y="406" width="25" height="1" fill="#00ffff"/>
<rect x="631" y="393" width="1" height="14" fill="#00ffff"/>
<rect x="636" y="394" width="1" height="12" fill="#00ffff"/>
<rect x="639" y="395" width="1" height="10" fill="#00ffff"/>
<rect x="642" y="395" width="1" height="10" fill="#00ffff"/>
<rect x="639" y="398" width="14" height="1" fill="#00ffff"/>
<rect x="639" y="401" width="14" height="1" fill="#00ffff"/>
<rect x="643" y="396" width="7" height="9" fill="#000000"/>
<rect x="642" y="395" width="10" height="1" fill="#00ffff"/>
<rect x="642" y="404" width="10" height="1" fill="#00ffff"/>
<rect x="627.5" y="398" width="3" height="5" fill="#000000" stroke="#ffffff" stroke-width="1"/>
<rect x="635.5" y="398" width="3" height="5" fill="#000000" stroke="#ffffff" stroke-width="1"/>
<rect x="642.5" y="390" width="3" height="3" fill="#000000" stroke="#ffffff" stroke-width="1"/>
<rect x="724" y="383" width="68" height="1" fill="#00ffff"/>
<rect x="724" y="416" width="68" height="1" fill="#00ffff"/>
<rect x="788" y="383" width="1" height="34" fill="#00ffff"/>
<rect x="724" y="386" width="62" height="1" fill="#00ffff"/>
<rect x="724" y="413" width="62" height="1" fill="#00ffff"/>
<rect x="783" y="386" width="1" height="28" fill="#00ffff"/>
<rect x="724" y="389" width="57" height="1" fill="#00ffff"/>
<rect x="724" y="410" width="57" height="1" fill="#00ffff"/>
<rect x="777" y="389" width="1" height="22" fill="#00ffff"/>
<rect x="724" y="393" width="46" height="1" fill="#00ffff"/>
<rect x="724" y="406" width="46" height="1" fill="#00ffff"/>
<rect x="770" y="393" width="1" height="14" fill="#00ffff"/>
<rect x="764" y="377" width="1" height="34" fill="#00ffff"/>
<rect x="754.5" y="398" width="3" height="5" fill="#000000" stroke="#ffffff" stroke-width="1"/>
<rect x="766" y="396" width="3" height="8.5" fill="#000000" stroke="#ffffff" stroke-width="1"/>
<rect x="774" y="394.5" width="3" height="11" fill="#000000" stroke="#ffffff" stroke-width="1"/>
<rect x="780" y="398" width="2.5" height="5" fill="#000000" stroke="#ffffff" stroke-width="1"/>
<rect x="785" y="397.5" width="2.5" height="6" fill="#000000" stroke="#ffffff" stroke-width="1"/>
<rect x="751.5" y="389.5" width="2" height="2" fill="#000000" stroke="#ffffff" stroke-width="1"/>
<rect x="724" y="384" width="3" height="3" fill="#ff00ff"/>
<rect x="724" y="411" width="4" height="4" fill="#ff0000"/>
<rect x="673" y="411" width="2" height="4" fill="#ff00ff"/>
<rect x="652" y="406" width="1" height="79" fill="#00ffff"/>
<rect x="671" y="400" width="1" height="85" fill="#00ffff"/>
<rect x="677" y="446" width="1" height="33" fill="#00ffff"/>
<rect x="684" y="446" width="1" height="27" fill="#00ffff"/>
<rect x="693" y="440" width="1" height="26" fill="#00ffff"/>
<rect x="706" y="440" width="1" height="26" fill="#00ffff"/>
<rect x="715" y="446" width="1" height="27" fill="#00ffff"/>
<rect x="722" y="446" width="1" height="33" fill="#00ffff"/>
<rect x="727" y="400" width="1" height="85" fill="#00ffff"/>
<rect x="729" y="400" width="1" height="74" fill="#00ffff"/>
<rect x="747" y="406" width="1" height="79" fill="#00ffff"/>
<rect x="693" y="463" width="14" height="1" fill="#00ffff"/>
<rect x="684" y="470" width="32" height="1" fill="#00ffff"/>
<rect x="677" y="476" width="46" height="1" fill="#00ffff"/>
<rect x="652" y="482" width="96" height="1" fill="#00ffff"/>
<rect x="652" y="474" width="19" height="1" fill="#00ffff"/>
<rect x="729" y="472" width="19" height="1" fill="#00ffff"/>
<rect x="698.5" y="459.5" width="3" height="3" fill="#000000" stroke="#ffffff" stroke-width="1"/>
<rect x="698" y="466.5" width="4" height="3" fill="#000000" stroke="#ffffff" stroke-width="1"/>
<rect x="698" y="473" width="4" height="3" fill="#000000" stroke="#ffffff" stroke-width="1"/>
<rect x="698" y="479" width="4" height="3" fill="#000000" stroke="#ffffff" stroke-width="1"/>
<rect x="660.5" y="470.5" width="3" height="3" fill="#000000" stroke="#ffffff" stroke-width="1"/>
<rect x="660.5" y="479" width="3" height="3" fill="#000000" stroke="#ffffff" stroke-width="1"/>
<rect x="737.5" y="468.5" width="3" height="3" fill="#000000" stroke="#ffffff" stroke-width="1"/>
<rect x="737" y="479" width="3" height="3" fill="#000000" stroke="#ffffff" stroke-width="1"/>
<rect x="697.2" y="139" width="4" height="21.5" fill="#ffffff"/>
<rect x="683.2" y="139" width="18" height="4" fill="#ffffff"/>
<path d="M694.2 142.5 L692.2 143.6 L687.2 143.6 L685.2 142.6 L682.2 140.8 L685.2 139 L686.7 137.7 L692.2 137.7 L694.2 139.5 Z" fill="#ffffff" stroke="#ffffff" stroke-width="1"/>
<rect x="697" y="485.5" width="4" height="19.5" fill="#ffffff"/>
<rect x="683" y="501" width="18" height="4" fill="#ffffff"/>
<path d="M694 504.5 L692 505.6 L687 505.6 L685 504.6 L682 502.8 L685 501 L686.5 499.7 L692 499.7 L694 501.5 Z" fill="#ffffff" stroke="#ffffff" stroke-width="1"/>
<rect x="225" y="543" width="1" height="128" fill="#00ffff"/>
<rect x="223" y="543" width="124" height="1" fill="#00ffff"/>
<rect x="223" y="670" width="124" height="1" fill="#00ffff"/>
<rect x="231" y="565" width="1" height="84" fill="#00ffff"/>
<rect x="229" y="565" width="100" height="1" fill="#00ffff"/>
<rect x="229" y="648" width="100" height="1" fill="#00ffff"/>
<rect x="236" y="570" width="1" height="73" fill="#00ffff"/>
<rect x="234" y="570" width="96" height="1" fill="#00ffff"/>
<rect x="234" y="642" width="96" height="1" fill="#00ffff"/>
<rect x="242" y="578" width="1" height="58" fill="#00ffff"/>
<rect x="240" y="578" width="76" height="1" fill="#00ffff"/>
<rect x="240" y="635" width="76" height="1" fill="#00ffff"/>
<rect x="248" y="584" width="1" height="47" fill="#00ffff"/>
<rect x="246" y="584" width="101" height="1" fill="#00ffff"/>
<rect x="246" y="630" width="101" height="1" fill="#00ffff"/>
<rect x="260" y="589" width="1" height="36" fill="#00ffff"/>
<rect x="258" y="589" width="59" height="1" fill="#00ffff"/>
<rect x="258" y="624" width="59" height="1" fill="#00ffff"/>
<rect x="266" y="594" width="1" height="26" fill="#00ffff"/>
<rect x="264" y="594" width="56" height="1" fill="#00ffff"/>
<rect x="264" y="619" width="56" height="1" fill="#00ffff"/>
<rect x="274" y="597" width="1" height="20" fill="#00ffff"/>
<rect x="272" y="597" width="18" height="1" fill="#00ffff"/>
<rect x="272" y="616" width="18" height="1" fill="#00ffff"/>
<rect x="280" y="600" width="1" height="13" fill="#00ffff"/>
<rect x="278" y="600" width="10" height="1" fill="#00ffff"/>
<rect x="278" y="612" width="10" height="1" fill="#00ffff"/>
<rect x="253" y="583.5" width="1" height="46" fill="#00ffff"/>
<rect x="222" y="604.5" width="3" height="5" fill="#000000" stroke="#ffffff" stroke-width="1"/>
<rect x="228" y="604.5" width="2.5" height="5" fill="#000000" stroke="#ffffff" stroke-width="1"/>
<rect x="233.5" y="604.5" width="2.5" height="5" fill="#000000" stroke="#ffffff" stroke-width="1"/>
<rect x="239.5" y="604.5" width="2.5" height="5" fill="#000000" stroke="#ffffff" stroke-width="1"/>
<rect x="245" y="604.5" width="2" height="5" fill="#000000" stroke="#ffffff" stroke-width="1"/>
<rect x="250" y="604.5" width="2" height="5" fill="#000000" stroke="#ffffff" stroke-width="1"/>
<rect x="256.5" y="604.5" width="3" height="5" fill="#000000" stroke="#ffffff" stroke-width="1"/>
<rect x="263" y="600" width="3" height="14" fill="#000000" stroke="#ffffff" stroke-width="1"/>
<rect x="270.5" y="604.5" width="2.5" height="5" fill="#000000" stroke="#ffffff" stroke-width="1"/>
<rect x="277" y="604.5" width="2.5" height="5" fill="#000000" stroke="#ffffff" stroke-width="1"/>
<rect x="366" y="503" width="109" height="1" fill="#00ffff"/>
<rect x="369" y="508" width="103" height="1" fill="#00ffff"/>
<rect x="372" y="523" width="49" height="1" fill="#00ffff"/>
<rect x="366" y="500" width="1" height="52" fill="#00ffff"/>
<rect x="369" y="505" width="1" height="47" fill="#00ffff"/>
<rect x="372" y="521" width="1" height="65" fill="#00ffff"/>
<rect x="420" y="521" width="1" height="26" fill="#00ffff"/>
<rect x="471" y="505" width="1" height="46" fill="#00ffff"/>
<rect x="474" y="500" width="1" height="51" fill="#00ffff"/>
<rect x="419" y="500" width="3.5" height="3" fill="#000000" stroke="#ffffff" stroke-width="1"/>
<rect x="419" y="505" width="3.5" height="3" fill="#000000" stroke="#ffffff" stroke-width="1"/>
<rect x="394.5" y="519.5" width="5" height="3.5" fill="#000000" stroke="#ffffff" stroke-width="1"/>
<rect x="323" y="535" width="37" height="1" fill="#00ffff"/>
<rect x="326" y="531.5" width="17" height="4" fill="#000000" stroke="#ffffff" stroke-width="1"/>
<rect x="352" y="533" width="1" height="17" fill="#00ffff"/>
<rect x="354" y="533" width="1" height="17" fill="#00ffff"/>
<rect x="540" y="548" width="1" height="118" fill="#00ffff"/>
<rect x="528" y="551" width="1" height="112" fill="#00ffff"/>
<rect x="522" y="560" width="1" height="93" fill="#00ffff"/>
<rect x="512" y="600" width="1" height="14" fill="#00ffff"/>
<rect x="500" y="606" width="1" height="40" fill="#00ffff"/>
<rect x="476" y="548" width="66" height="1" fill="#00ffff"/>
<rect x="476" y="551" width="56" height="1" fill="#00ffff"/>
<rect x="438" y="560" width="87" height="1" fill="#00ffff"/>
<rect x="446" y="600" width="70" height="1" fill="#00ffff"/>
<rect x="421" y="606" width="83" height="1" fill="#00ffff"/>
<rect x="446" y="613" width="70" height="1" fill="#00ffff"/>
<rect x="450" y="645" width="54" height="1" fill="#00ffff"/>
<rect x="438" y="652" width="87" height="1" fill="#00ffff"/>
<rect x="468" y="662" width="64" height="1" fill="#00ffff"/>
<rect x="468" y="665" width="74" height="1" fill="#00ffff"/>
<rect x="508.5" y="605.5" width="3" height="3" fill="#000000" stroke="#ffffff" stroke-width="1"/>
<rect x="518.5" y="604.5" width="2.5" height="5" fill="#000000" stroke="#ffffff" stroke-width="1"/>
<rect x="524.5" y="604.5" width="3" height="5" fill="#000000" stroke="#ffffff" stroke-width="1"/>
<rect x="535.5" y="604.5" width="3" height="5" fill="#000000" stroke="#ffffff" stroke-width="1"/>
<rect x="497.5" y="622.5" width="3" height="8" fill="#000000" stroke="#ffffff" stroke-width="1"/>
<rect x="347" y="671" width="1" height="23" fill="#00ffff"/>
<rect x="353" y="662" width="1" height="26" fill="#00ffff"/>
<rect x="392" y="667" width="1" height="21" fill="#00ffff"/>
<rect x="398" y="671" width="1" height="23" fill="#00ffff"/>
<rect x="353" y="685" width="40" height="1" fill="#00ffff"/>
<rect x="347" y="691" width="52" height="1" fill="#00ffff"/>
<rect x="369.5" y="681.5" width="7" height="3" fill="#000000" stroke="#ffffff" stroke-width="1"/>
<rect x="369.5" y="687.5" width="7" height="3" fill="#000000" stroke="#ffffff" stroke-width="1"/>
<rect x="403" y="668" width="1" height="33" fill="#00ffff"/>
<rect x="406" y="668" width="1" height="26" fill="#00ffff"/>
<rect x="409" y="668" width="1" height="16" fill="#00ffff"/>
<rect x="414" y="668" width="1" height="16" fill="#00ffff"/>
<rect x="426" y="668" width="1" height="16" fill="#00ffff"/>
<rect x="431" y="668" width="1" height="26" fill="#00ffff"/>
<rect x="434" y="668" width="1" height="26" fill="#00ffff"/>
<rect x="437" y="668" width="1" height="33" fill="#00ffff"/>
<rect x="409" y="680" width="26" height="1" fill="#00ffff"/>
<rect x="403" y="686" width="56" height="1" fill="#00ffff"/>
<rect x="406" y="691" width="29" height="1" fill="#00ffff"/>
<rect x="403" y="698" width="35" height="1" fill="#00ffff"/>
<rect x="435" y="676.5" width="13" height="3.5" fill="#000000" stroke="#ffffff" stroke-width="1"/>
<rect x="439.5" y="682" width="16" height="3.5" fill="#000000" stroke="#ffffff" stroke-width="1"/>
<rect x="418" y="687.5" width="5" height="3" fill="#000000" stroke="#ffffff" stroke-width="1"/>
<rect x="418" y="694.5" width="6" height="3" fill="#000000" stroke="#ffffff" stroke-width="1"/>
<rect x="364" y="546" width="112" height="7" fill="#ffffff"/>
<rect x="364" y="660" width="112" height="7" fill="#ffffff"/>
<rect x="364" y="546" width="8" height="121" fill="#ffffff"/>
<rect x="469" y="546" width="7" height="121" fill="#ffffff"/>
<g clip-path="url(#h33)" stroke="#00ffff" stroke-width="1"><path d="M355.0 552L350.0 547M360.0 552L355.0 547M365.0 552L360.0 547M370.0 552L365.0 547M375.0 552L370.0 547M380.0 552L375.0 547M385.0 552L380.0 547M390.0 552L385.0 547M395.0 552L390.0 547M400.0 552L395.0 547M405.0 552L400.0 547M410.0 552L405.0 547M415.0 552L410.0 547M420.0 552L415.0 547M425.0 552L420.0 547M430.0 552L425.0 547M435.0 552L430.0 547M440.0 552L435.0 547M445.0 552L440.0 547M450.0 552L445.0 547M455.0 552L450.0 547M460.0 552L455.0 547M465.0 552L460.0 547M470.0 552L465.0 547M475.0 552L470.0 547M480.0 552L475.0 547" fill="none"/></g>
<g clip-path="url(#h34)" stroke="#00ffff" stroke-width="1"><path d="M355.0 666L350.0 661M360.0 666L355.0 661M365.0 666L360.0 661M370.0 666L365.0 661M375.0 666L370.0 661M380.0 666L375.0 661M385.0 666L380.0 661M390.0 666L385.0 661M395.0 666L390.0 661M400.0 666L395.0 661M405.0 666L400.0 661M410.0 666L405.0 661M415.0 666L410.0 661M420.0 666L415.0 661M425.0 666L420.0 661M430.0 666L425.0 661M435.0 666L430.0 661M440.0 666L435.0 661M445.0 666L440.0 661M450.0 666L445.0 661M455.0 666L450.0 661M460.0 666L455.0 661M465.0 666L460.0 661M470.0 666L465.0 661M475.0 666L470.0 661M480.0 666L475.0 661" fill="none"/></g>
<g clip-path="url(#h35)" stroke="#00ffff" stroke-width="1"><path d="M251.0 661L142.0 552M256.0 661L147.0 552M261.0 661L152.0 552M266.0 661L157.0 552M271.0 661L162.0 552M276.0 661L167.0 552M281.0 661L172.0 552M286.0 661L177.0 552M291.0 661L182.0 552M296.0 661L187.0 552M301.0 661L192.0 552M306.0 661L197.0 552M311.0 661L202.0 552M316.0 661L207.0 552M321.0 661L212.0 552M326.0 661L217.0 552M331.0 661L222.0 552M336.0 661L227.0 552M341.0 661L232.0 552M346.0 661L237.0 552M351.0 661L242.0 552M356.0 661L247.0 552M361.0 661L252.0 552M366.0 661L257.0 552M371.0 661L262.0 552M376.0 661L267.0 552M381.0 661L272.0 552M386.0 661L277.0 552M391.0 661L282.0 552M396.0 661L287.0 552M401.0 661L292.0 552M406.0 661L297.0 552M411.0 661L302.0 552M416.0 661L307.0 552M421.0 661L312.0 552M426.0 661L317.0 552M431.0 661L322.0 552M436.0 661L327.0 552M441.0 661L332.0 552M446.0 661L337.0 552M451.0 661L342.0 552M456.0 661L347.0 552M461.0 661L352.0 552M466.0 661L357.0 552M471.0 661L362.0 552M476.0 661L367.0 552M481.0 661L372.0 552" fill="none"/></g>
<g clip-path="url(#h36)" stroke="#00ffff" stroke-width="1"><path d="M356.0 661L247.0 552M361.0 661L252.0 552M366.0 661L257.0 552M371.0 661L262.0 552M376.0 661L267.0 552M381.0 661L272.0 552M386.0 661L277.0 552M391.0 661L282.0 552M396.0 661L287.0 552M401.0 661L292.0 552M406.0 661L297.0 552M411.0 661L302.0 552M416.0 661L307.0 552M421.0 661L312.0 552M426.0 661L317.0 552M431.0 661L322.0 552M436.0 661L327.0 552M441.0 661L332.0 552M446.0 661L337.0 552M451.0 661L342.0 552M456.0 661L347.0 552M461.0 661L352.0 552M466.0 661L357.0 552M471.0 661L362.0 552M476.0 661L367.0 552M481.0 661L372.0 552M486.0 661L377.0 552M491.0 661L382.0 552M496.0 661L387.0 552M501.0 661L392.0 552M506.0 661L397.0 552M511.0 661L402.0 552M516.0 661L407.0 552M521.0 661L412.0 552M526.0 661L417.0 552M531.0 661L422.0 552M536.0 661L427.0 552M541.0 661L432.0 552M546.0 661L437.0 552M551.0 661L442.0 552M556.0 661L447.0 552M561.0 661L452.0 552M566.0 661L457.0 552M571.0 661L462.0 552M576.0 661L467.0 552M581.0 661L472.0 552M586.0 661L477.0 552" fill="none"/></g>
<rect x="345" y="541" width="55" height="4" fill="#ffffff"/>
<rect x="345" y="668" width="55" height="4" fill="#ffffff"/>
<rect x="345" y="541" width="4" height="42" fill="#ffffff"/>
<rect x="345" y="630" width="4" height="42" fill="#ffffff"/>
<rect x="352" y="547" width="2" height="5" fill="#ff00ff"/>
<rect x="353" y="545" width="1" height="7" fill="#ffff00"/>
<rect x="352" y="663" width="2" height="4" fill="#ff00ff"/>
<rect x="353" y="661" width="1" height="7" fill="#ffff00"/>
<rect x="401" y="543" width="38" height="19" fill="#ffffff"/>
<rect x="402" y="650" width="37" height="20" fill="#ffffff"/>
<g clip-path="url(#h37)" stroke="#00ffff" stroke-width="1"><path d="M383.0 561L369.0 547M388.0 561L374.0 547M393.0 561L379.0 547M398.0 561L384.0 547M403.0 561L389.0 547M408.0 561L394.0 547M413.0 561L399.0 547M418.0 561L404.0 547M423.0 561L409.0 547M428.0 561L414.0 547M433.0 561L419.0 547M438.0 561L424.0 547M443.0 561L429.0 547M448.0 561L434.0 547M453.0 561L439.0 547" fill="none"/></g>
<g clip-path="url(#h38)" stroke="#00ffff" stroke-width="1"><path d="M384.0 666L370.0 652M389.0 666L375.0 652M394.0 666L380.0 652M399.0 666L385.0 652M404.0 666L390.0 652M409.0 666L395.0 652M414.0 666L400.0 652M419.0 666L405.0 652M424.0 666L410.0 652M429.0 666L415.0 652M434.0 666L420.0 652M439.0 666L425.0 652M444.0 666L430.0 652M449.0 666L435.0 652M454.0 666L440.0 652" fill="none"/></g>
<rect x="415" y="552" width="11" height="10" fill="#000000"/>
<rect x="415" y="650" width="11" height="12" fill="#000000"/>
<rect x="406" y="545" width="3" height="2" fill="#ff00ff"/>
<rect x="432" y="545" width="3" height="2" fill="#ffff00"/>
<rect x="406" y="557" width="2" height="2" fill="#ffff00"/>
<rect x="433" y="557" width="2" height="2" fill="#ffff00"/>
<rect x="406" y="655" width="2" height="3" fill="#000000"/>
<rect x="433" y="655" width="2" height="3" fill="#000000"/>
<rect x="411" y="552" width="5" height="106" fill="#ffffff"/>
<rect x="424" y="552" width="5" height="106" fill="#ffffff"/>
<rect x="416" y="552" width="8" height="44" fill="#000000"/>
<rect x="420" y="547" width="1" height="121" fill="#ffff00"/>
<rect x="287" y="598" width="86" height="17" fill="#ffffff"/>
<rect x="314" y="586" width="58" height="41" fill="#ffffff"/>
<rect x="327" y="563.5" width="19" height="25" fill="#ffffff"/>
<rect x="312" y="575.5" width="17" height="20" rx="4" fill="#ffffff"/>
<rect x="329" y="570.5" width="2" height="15" fill="#000000"/>
<rect x="335" y="570.5" width="2" height="15" fill="#000000"/>
<rect x="324" y="589.8" width="42" height="1.4" fill="#000000"/>
<rect x="341" y="584.8" width="25" height="1.4" fill="#000000"/>
<rect x="341" y="573.5" width="1.4" height="12" fill="#000000"/>
<rect x="328" y="570.5" width="19" height="1" fill="#ffff00"/>
<rect x="314" y="583.5" width="2" height="3" fill="#ff00ff"/>
<rect x="327" y="567.5" width="2" height="3" fill="#ff00ff"/>
<rect x="327" y="624.5" width="19" height="25" fill="#ffffff"/>
<rect x="312" y="617.5" width="17" height="20" rx="4" fill="#ffffff"/>
<rect x="329" y="627.5" width="2" height="15" fill="#000000"/>
<rect x="335" y="627.5" width="2" height="15" fill="#000000"/>
<rect x="324" y="621.8" width="42" height="1.4" fill="#000000"/>
<rect x="341" y="626.8" width="25" height="1.4" fill="#000000"/>
<rect x="341" y="627.5" width="1.4" height="12" fill="#000000"/>
<rect x="328" y="642.5" width="19" height="1" fill="#ffff00"/>
<rect x="314" y="627.5" width="2" height="3" fill="#ff00ff"/>
<rect x="327" y="643.5" width="2" height="3" fill="#ff00ff"/>
<g clip-path="url(#h39)" stroke="#00ffff" stroke-width="1"><path d="M296.0 598L308.0 586M302.0 598L314.0 586M308.0 598L320.0 586M314.0 598L326.0 586M320.0 598L332.0 586M326.0 598L338.0 586M332.0 598L344.0 586M338.0 598L350.0 586M344.0 598L356.0 586M350.0 598L362.0 586M356.0 598L368.0 586M362.0 598L374.0 586M368.0 598L380.0 586M374.0 598L386.0 586M380.0 598L392.0 586M386.0 598L398.0 586" fill="none"/></g>
<g clip-path="url(#h40)" stroke="#00ffff" stroke-width="1"><path d="M296.0 627L308.0 615M302.0 627L314.0 615M308.0 627L320.0 615M314.0 627L326.0 615M320.0 627L332.0 615M326.0 627L338.0 615M332.0 627L344.0 615M338.0 627L350.0 615M344.0 627L356.0 615M350.0 627L362.0 615M356.0 627L368.0 615M362.0 627L374.0 615M368.0 627L380.0 615M374.0 627L386.0 615M380.0 627L392.0 615M386.0 627L398.0 615" fill="none"/></g>
<g clip-path="url(#h41)" stroke="#00ffff" stroke-width="1"><path d="M298.0 586L275.0 563M304.0 586L281.0 563M310.0 586L287.0 563M316.0 586L293.0 563M322.0 586L299.0 563M328.0 586L305.0 563M334.0 586L311.0 563M340.0 586L317.0 563M346.0 586L323.0 563M352.0 586L329.0 563M358.0 586L335.0 563M364.0 586L341.0 563M370.0 586L347.0 563" fill="none"/></g>
<g clip-path="url(#h42)" stroke="#00ffff" stroke-width="1"><path d="M298.0 650L275.0 627M304.0 650L281.0 627M310.0 650L287.0 627M316.0 650L293.0 627M322.0 650L299.0 627M328.0 650L305.0 627M334.0 650L311.0 627M340.0 650L317.0 627M346.0 650L323.0 627M352.0 650L329.0 627M358.0 650L335.0 627M364.0 650L341.0 627M370.0 650L347.0 627" fill="none"/></g>
<rect x="349" y="545" width="16" height="37" fill="#000000"/>
<rect x="349" y="631" width="16" height="30" fill="#000000"/>
<rect x="315" y="602" width="57" height="10" fill="#000000"/>
<rect x="346" y="602" width="2" height="10" fill="#ffffff"/>
<rect x="287" y="606" width="85" height="1" fill="#ffff00"/>
<rect x="376" y="606" width="20" height="1" fill="#ffff00"/>
<rect x="372" y="586" width="1" height="91" fill="#ffff00"/>
<rect x="372" y="546" width="1" height="14" fill="#ffff00"/>
<rect x="365" y="604.5" width="2" height="4" fill="#000000" stroke="#ffffff" stroke-width="1"/>
<rect x="279" y="600" width="1" height="13" fill="#00ffff"/>
<path d="M373 596 L376 589 L381 584 L388 589 L392 598 L396 606 L392 615 L388 624 L381 629 L376 624 L373 617 Z" fill="#ffffff" stroke="#ffffff" stroke-width="1"/>
<g clip-path="url(#h43)" stroke="#000000" stroke-width="1"><path d="M365.0 598L371.0 592M368.0 598L374.0 592M371.0 598L377.0 592M374.0 598L380.0 592M377.0 598L383.0 592M380.0 598L386.0 592M383.0 598L389.0 592M386.0 598L392.0 592M389.0 598L395.0 592M392.0 598L398.0 592" fill="none"/></g>
<g clip-path="url(#h44)" stroke="#000000" stroke-width="1"><path d="M365.0 622L371.0 616M368.0 622L374.0 616M371.0 622L377.0 616M374.0 622L380.0 616M377.0 622L383.0 616M380.0 622L386.0 616M383.0 622L389.0 616M386.0 622L392.0 616M389.0 622L395.0 616M392.0 622L398.0 616" fill="none"/></g>
<rect x="373" y="594" width="12" height="1" fill="#00ffff"/>
<rect x="373" y="619" width="12" height="1" fill="#00ffff"/>
<rect x="392" y="597" width="54" height="18" fill="#ffffff"/>
<rect x="405" y="589" width="31" height="8" fill="#ffffff"/>
<rect x="398.5" y="599" width="13.5" height="13" fill="#00ffff"/>
<g clip-path="url(#h45)" stroke="#000000" stroke-width="1"><path d="M382.5 612L369.5 599M385.5 612L372.5 599M388.5 612L375.5 599M391.5 612L378.5 599M394.5 612L381.5 599M397.5 612L384.5 599M400.5 612L387.5 599M403.5 612L390.5 599M406.5 612L393.5 599M409.5 612L396.5 599M412.5 612L399.5 599M415.5 612L402.5 599M418.5 612L405.5 599M421.5 612L408.5 599M424.5 612L411.5 599M427.5 612L414.5 599" fill="none"/></g>
<rect x="427.5" y="599" width="13.5" height="13" fill="#00ffff"/>
<g clip-path="url(#h46)" stroke="#000000" stroke-width="1"><path d="M411.5 612L398.5 599M414.5 612L401.5 599M417.5 612L404.5 599M420.5 612L407.5 599M423.5 612L410.5 599M426.5 612L413.5 599M429.5 612L416.5 599M432.5 612L419.5 599M435.5 612L422.5 599M438.5 612L425.5 599M441.5 612L428.5 599M444.5 612L431.5 599M447.5 612L434.5 599M450.5 612L437.5 599M453.5 612L440.5 599M456.5 612L443.5 599" fill="none"/></g>
<rect x="407" y="594" width="4" height="3" fill="#ff00ff"/>
<path d="M376 622 L465 622 L463 628 L452 633 L451 646 L390 646 L389 633 L378 628 Z" fill="#ffffff" stroke="#ffffff" stroke-width="2"/>
<path d="M383 625 L458 625 L449 631 L448 643 L393 643 L392 631 Z" fill="#000000" stroke="#00ffff" stroke-width="1"/>
<g clip-path="url(#h47)" stroke="#00ffff" stroke-width="1"><path d="M362.5 643L344.5 625M365.0 643L347.0 625M367.5 643L349.5 625M370.0 643L352.0 625M372.5 643L354.5 625M375.0 643L357.0 625M377.5 643L359.5 625M380.0 643L362.0 625M382.5 643L364.5 625M385.0 643L367.0 625M387.5 643L369.5 625M390.0 643L372.0 625M392.5 643L374.5 625M395.0 643L377.0 625M397.5 643L379.5 625M400.0 643L382.0 625M402.5 643L384.5 625M405.0 643L387.0 625M407.5 643L389.5 625M410.0 643L392.0 625M412.5 643L394.5 625M415.0 643L397.0 625M417.5 643L399.5 625M420.0 643L402.0 625M422.5 643L404.5 625M425.0 643L407.0 625M427.5 643L409.5 625M430.0 643L412.0 625M432.5 643L414.5 625M435.0 643L417.0 625M437.5 643L419.5 625M440.0 643L422.0 625M442.5 643L424.5 625M445.0 643L427.0 625M447.5 643L429.5 625M450.0 643L432.0 625M452.5 643L434.5 625M455.0 643L437.0 625M457.5 643L439.5 625M460.0 643L442.0 625M462.5 643L444.5 625M465.0 643L447.0 625M467.5 643L449.5 625M470.0 643L452.0 625M472.5 643L454.5 625M475.0 643L457.0 625M477.5 643L459.5 625" fill="none"/></g>
<rect x="411" y="615" width="18" height="36" fill="#ffffff"/>
<rect x="411" y="615" width="5" height="10" fill="#00ffff"/>
<rect x="424" y="615" width="5" height="10" fill="#00ffff"/>
<rect x="416" y="612" width="8" height="10" fill="#000000"/>
<rect x="376" y="620" width="34" height="1" fill="#ff00ff"/>
<rect x="430" y="620" width="22" height="1" fill="#ff00ff"/>
<path d="M390 620 L402 615" fill="none" stroke="#ffff00" stroke-width="1"/>
<path d="M439 615 L452 620" fill="none" stroke="#ffff00" stroke-width="1"/>
<path d="M386 592 L400 597" fill="none" stroke="#ffff00" stroke-width="1"/>
<rect x="412" y="648" width="17" height="4" fill="#ffffff"/>
<rect x="416" y="646" width="8" height="20" fill="#000000"/>
<rect x="420" y="590" width="1" height="82" fill="#ffff00"/>
<path d="M420.5 596 L420.5 606" fill="none" stroke="#00ffff" stroke-width="1"/>
<rect x="372" y="582" width="49" height="1" fill="#00ffff"/>
<rect x="393" y="579.5" width="7.5" height="3" fill="#000000" stroke="#ffffff" stroke-width="1"/>
<rect x="403" y="570" width="35" height="1" fill="#00ffff"/>
<rect x="403" y="561" width="1" height="12" fill="#00ffff"/>
<rect x="437" y="561" width="1" height="12" fill="#00ffff"/>
<rect x="418.5" y="567.5" width="5" height="3.5" fill="#000000" stroke="#ffffff" stroke-width="1"/>
<rect x="420" y="570" width="1" height="36" fill="#00ffff"/>
<path d="M609.959 541.68 L610.542 539.563 L614.3 539 L618.058 539.563 L618.641 541.68 L619.024 545.838 L621.954 547.822 L625.428 548.491 L628.639 545.821 L630.549 544.737 L633.604 546.996 L635.863 550.051 L634.779 551.961 L632.109 555.172 L632.778 558.646 L634.762 561.576 L638.92 561.959 L641.037 562.542 L641.6 566.3 L641.037 570.058 L638.92 570.641 L634.762 571.024 L632.778 573.954 L632.109 577.428 L634.779 580.639 L635.863 582.549 L633.604 585.604 L630.549 587.863 L628.639 586.779 L625.428 584.109 L621.954 584.778 L619.024 586.762 L618.641 590.92 L618.058 593.037 L614.3 593.6 L610.542 593.037 L609.959 590.92 L609.576 586.762 L606.646 584.778 L603.172 584.109 L599.961 586.779 L598.051 587.863 L594.996 585.604 L592.737 582.549 L593.821 580.639 L596.491 577.428 L595.822 573.954 L593.838 571.024 L589.68 570.641 L587.563 570.058 L587 566.3 L587.563 562.542 L589.68 561.959 L593.838 561.576 L595.822 558.646 L596.491 555.172 L593.821 551.961 L592.737 550.051 L594.996 546.996 L598.051 544.737 L599.961 545.821 L603.172 548.491 L606.646 547.822 L609.576 545.838 Z" fill="none" stroke="#ffffff" stroke-width="3" stroke-linejoin="round"/>
<rect x="576" y="566" width="26" height="1" fill="#ffff00"/>
<rect x="610" y="566" width="8" height="1" fill="#ffff00"/>
<rect x="626" y="566" width="27" height="1" fill="#ffff00"/>
<rect x="614" y="528" width="1" height="24" fill="#ffff00"/>
<rect x="614" y="562" width="1" height="9" fill="#ffff00"/>
<rect x="614" y="580" width="1" height="25" fill="#ffff00"/>
<rect x="574" y="521" width="65" height="1" fill="#00ff00"/>
<rect x="609" y="519" width="1" height="24" fill="#00ff00"/>
<rect x="618" y="519" width="1" height="24" fill="#00ff00"/>
<rect x="574.5" y="518.5" width="14" height="7" fill="none" stroke="#00ff00" stroke-width="1"/>
<rect x="580" y="520.5" width="7" height="3" fill="#000000" stroke="#ffffff" stroke-width="1"/>
<rect x="576" y="520" width="2" height="4" fill="#ffffff"/>
<rect x="624.5" y="517.5" width="13" height="4" fill="#000000" stroke="#ffffff" stroke-width="1"/>
<rect x="574.5" y="539" width="15" height="4.5" fill="#000000" stroke="#ffffff" stroke-width="1"/>
<path d="M575 544.5 L591 544.5 L636 588" fill="none" stroke="#00ff00" stroke-width="1"/>
<path d="M607.5 542 L624.5 600.5 L641 600.5" fill="none" stroke="#00ff00" stroke-width="1"/>
<rect x="626.5" y="595.5" width="14" height="4.5" fill="#000000" stroke="#ffffff" stroke-width="1"/>
<text x="613.5" y="628.6" font-size="7.5" fill="#ffffff" text-anchor="middle" filter="url(#crisp)" textLength="18" lengthAdjust="spacingAndGlyphs">A视图</text>
<rect x="594" y="630" width="42" height="6" fill="#ffffff"/>
<rect x="593" y="631" width="44" height="1" fill="#ffffff"/>
<rect x="593" y="634" width="44" height="1" fill="#ffffff"/>
<text x="613.5" y="644" font-size="8" fill="#ffffff" text-anchor="middle" filter="url(#crisp)" textLength="10" lengthAdjust="spacingAndGlyphs">1:1</text>
</svg>
</body>
</html>
